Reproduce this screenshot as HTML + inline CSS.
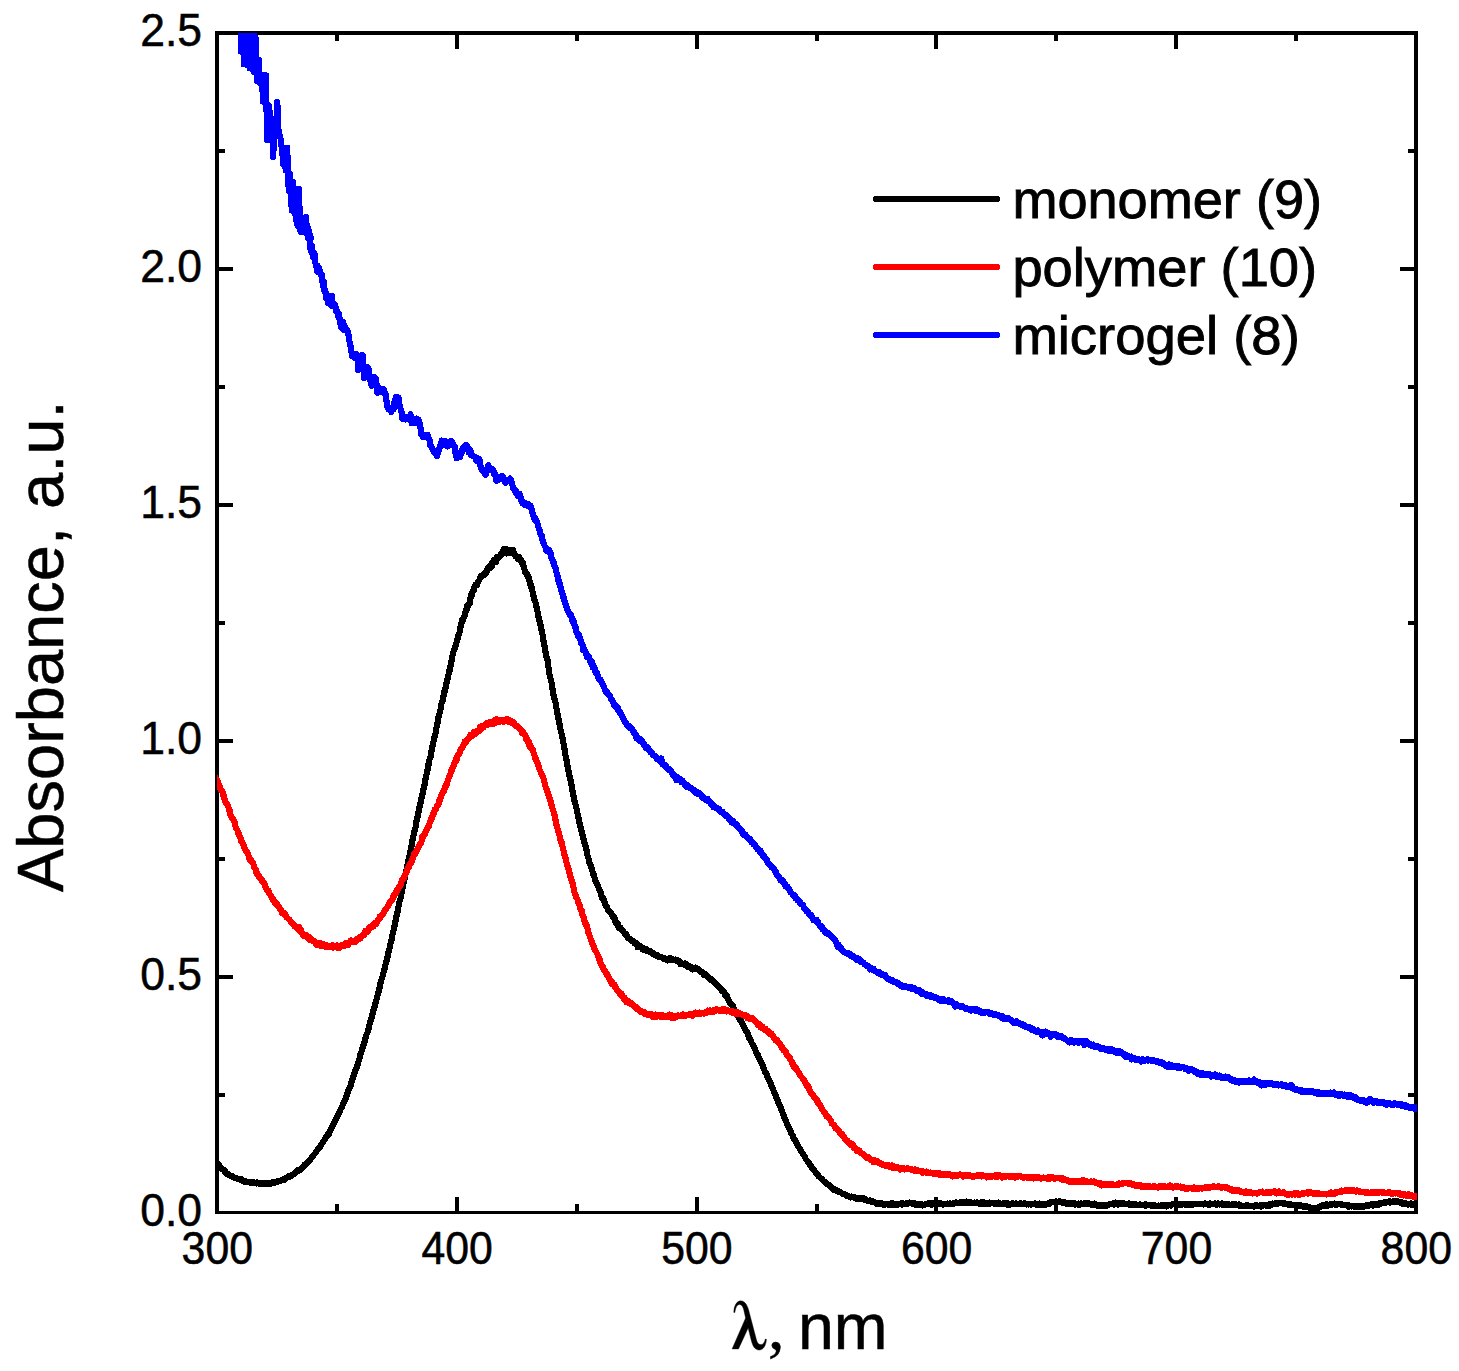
<!DOCTYPE html>
<html><head><meta charset="utf-8"><title>Absorbance spectra</title>
<style>
html,body{margin:0;padding:0;background:#fff;}
body{width:1459px;height:1371px;overflow:hidden;font-family:"Liberation Sans",sans-serif;}
svg{display:block;}
text{font-family:"Liberation Sans",sans-serif;fill:#000;stroke:#000;stroke-width:0.5px;}
.lg text{stroke:#000;stroke-width:0.9px;}
.lg path{fill:none;}
.ser{font-family:"Liberation Serif",serif;}
</style></head><body>
<svg width="1459" height="1371" viewBox="0 0 1459 1371">
<rect width="1459" height="1371" fill="#fff"/>
<defs><clipPath id="cp"><rect x="217" y="33" width="1200" height="1180"/></clipPath></defs>
<path shape-rendering="crispEdges" fill="#000" d="M215,31H1418V35H215ZM215,1211H1418V1214H215ZM215,31H219V1214H215ZM1414,31H1418V1214H1414ZM335,1204H339V1211H335ZM335,35H339V41H335ZM455,1197H459V1211H455ZM455,35H459V49H455ZM575,1204H579V1211H575ZM575,35H579V41H575ZM695,1197H699V1211H695ZM695,35H699V49H695ZM815,1204H819V1211H815ZM815,35H819V41H815ZM934,1197H938V1211H934ZM934,35H938V49H934ZM1054,1204H1058V1211H1054ZM1054,35H1058V41H1054ZM1174,1197H1178V1211H1174ZM1174,35H1178V49H1174ZM1294,1204H1298V1211H1294ZM1294,35H1298V41H1294ZM219,1093H225V1097H219ZM1408,1093H1414V1097H1408ZM219,975H233V979H219ZM1400,975H1414V979H1400ZM219,857H225V861H219ZM1408,857H1414V861H1408ZM219,739H233V743H219ZM1400,739H1414V743H1400ZM219,621H225V625H219ZM1408,621H1414V625H1408ZM219,503H233V507H219ZM1400,503H1414V507H1400ZM219,385H225V389H219ZM1408,385H1414V389H1408ZM219,267H233V271H219ZM1400,267H1414V271H1400ZM219,149H225V153H219ZM1408,149H1414V153H1408Z"/>
<g clip-path="url(#cp)" shape-rendering="crispEdges" fill="none" stroke-width="6.2" stroke-linejoin="round" stroke-linecap="round">
<path stroke="#000" d="M208.0,1152.8 208.6,1153.2 209.2,1153.8 209.8,1154.4 210.4,1155.2 211.0,1156.1 211.6,1156.4 212.2,1156.7 212.8,1157.5 213.4,1158.3 214.0,1158.8 214.6,1159.9 215.2,1160.6 215.8,1161.3 216.4,1162.5 217.0,1162.7 217.6,1163.4 218.2,1164.2 218.8,1165.0 219.4,1166.3 220.0,1166.4 220.6,1167.5 221.2,1168.0 221.8,1168.1 222.4,1169.3 223.0,1169.6 223.6,1169.9 224.2,1170.5 224.8,1172.0 225.4,1171.7 226.0,1172.5 226.6,1173.6 227.2,1173.9 227.8,1173.9 228.4,1174.6 229.0,1174.8 229.6,1175.1 230.2,1175.5 230.8,1175.7 231.4,1176.0 232.0,1176.6 232.6,1176.0 233.2,1176.7 233.8,1177.5 234.4,1177.5 235.0,1177.9 235.6,1177.8 236.2,1178.2 236.8,1178.3 237.4,1179.0 238.0,1179.3 238.6,1179.2 239.2,1179.1 239.8,1179.5 240.4,1179.6 241.0,1179.2 241.6,1180.4 242.2,1180.4 242.8,1180.9 243.4,1180.7 244.0,1181.3 244.6,1181.9 245.2,1181.4 245.8,1181.1 246.4,1181.8 247.0,1181.6 247.6,1182.0 248.2,1182.0 248.8,1182.3 249.4,1182.4 250.0,1182.6 250.6,1182.1 251.2,1182.2 251.8,1182.6 252.4,1182.2 253.0,1182.7 253.6,1182.5 254.2,1182.5 254.8,1182.8 255.4,1183.2 256.0,1182.8 256.6,1183.4 257.2,1182.6 257.8,1183.1 258.4,1183.5 259.0,1183.6 259.6,1183.0 260.2,1183.0 260.8,1183.6 261.4,1183.0 262.0,1183.9 262.6,1183.4 263.2,1183.5 263.8,1184.1 264.4,1183.6 265.0,1183.6 265.6,1183.2 266.2,1183.7 266.8,1183.7 267.4,1183.6 268.0,1183.8 268.6,1183.1 269.2,1183.6 269.8,1183.4 270.4,1182.9 271.0,1183.4 271.6,1182.5 272.2,1182.7 272.8,1183.1 273.4,1182.3 274.0,1182.1 274.6,1182.2 275.2,1182.4 275.8,1182.4 276.4,1182.2 277.0,1182.0 277.6,1181.1 278.2,1181.5 278.8,1181.0 279.4,1181.1 280.0,1181.0 280.6,1181.0 281.2,1180.4 281.8,1180.3 282.4,1179.5 283.0,1179.7 283.6,1179.2 284.2,1179.7 284.8,1178.8 285.4,1178.7 286.0,1178.0 286.6,1177.6 287.2,1177.5 287.8,1176.7 288.4,1177.0 289.0,1176.1 289.6,1176.6 290.2,1175.9 290.8,1175.8 291.4,1176.2 292.0,1174.6 292.6,1174.5 293.2,1174.5 293.8,1174.1 294.4,1173.2 295.0,1173.0 295.6,1172.0 296.2,1172.0 296.8,1171.3 297.4,1171.4 298.0,1170.0 298.6,1170.1 299.2,1170.5 299.8,1169.7 300.4,1169.0 301.0,1169.2 301.6,1168.4 302.2,1167.8 302.8,1166.7 303.4,1166.4 304.0,1166.0 304.6,1164.8 305.2,1164.6 305.8,1163.6 306.4,1163.2 307.0,1162.8 307.6,1161.9 308.2,1161.6 308.8,1161.3 309.4,1160.7 310.0,1159.9 310.6,1159.0 311.2,1158.3 311.8,1157.5 312.4,1156.9 313.0,1155.9 313.6,1155.1 314.2,1154.2 314.8,1153.9 315.4,1153.0 316.0,1152.2 316.6,1151.3 317.2,1150.3 317.8,1149.7 318.4,1148.4 319.0,1148.3 319.6,1147.3 320.2,1147.1 320.8,1145.6 321.4,1144.5 322.0,1143.6 322.6,1143.0 323.2,1141.8 323.8,1140.8 324.4,1139.9 325.0,1139.8 325.6,1138.1 326.2,1136.8 326.8,1136.5 327.4,1136.2 328.0,1134.0 328.6,1134.5 329.2,1132.4 329.8,1131.6 330.4,1130.4 331.0,1129.1 331.6,1128.0 332.2,1126.8 332.8,1125.0 333.4,1124.9 334.0,1123.1 334.6,1122.3 335.2,1121.1 335.8,1119.4 336.4,1118.3 337.0,1117.1 337.6,1116.0 338.2,1115.0 338.8,1113.8 339.4,1111.8 340.0,1110.6 340.6,1109.3 341.2,1108.3 341.8,1107.5 342.4,1105.9 343.0,1104.1 343.6,1103.0 344.2,1101.5 344.8,1100.5 345.4,1099.0 346.0,1097.3 346.6,1095.5 347.2,1093.9 347.8,1093.0 348.4,1090.4 349.0,1089.3 349.6,1087.8 350.2,1086.2 350.8,1085.2 351.4,1082.7 352.0,1079.8 352.6,1079.3 353.2,1077.3 353.8,1074.3 354.4,1073.1 355.0,1071.6 355.6,1069.3 356.2,1068.9 356.8,1067.1 357.4,1065.3 358.0,1063.0 358.6,1061.3 359.2,1059.4 359.8,1057.5 360.4,1054.6 361.0,1053.6 361.6,1051.1 362.2,1048.2 362.8,1047.9 363.4,1045.4 364.0,1043.1 364.6,1041.5 365.2,1038.6 365.8,1037.5 366.4,1034.7 367.0,1033.4 367.6,1032.4 368.2,1030.4 368.8,1027.4 369.4,1024.9 370.0,1023.4 370.6,1020.5 371.2,1018.8 371.8,1016.8 372.4,1014.6 373.0,1013.4 373.6,1009.5 374.2,1009.3 374.8,1005.2 375.4,1003.5 376.0,1001.2 376.6,999.2 377.2,996.9 377.8,994.4 378.4,992.3 379.0,989.9 379.6,987.6 380.2,984.4 380.8,981.9 381.4,979.9 382.0,978.1 382.6,976.0 383.2,973.7 383.8,971.7 384.4,969.7 385.0,966.8 385.6,964.2 386.2,961.5 386.8,960.4 387.4,957.7 388.0,954.0 388.6,951.9 389.2,949.8 389.8,947.7 390.4,943.9 391.0,941.8 391.6,939.9 392.2,935.6 392.8,933.4 393.4,931.1 394.0,927.6 394.6,926.1 395.2,922.5 395.8,919.4 396.4,916.4 397.0,914.8 397.6,911.8 398.2,908.1 398.8,905.4 399.4,902.0 400.0,900.0 400.6,898.0 401.2,894.7 401.8,891.6 402.4,889.1 403.0,885.2 403.6,882.5 404.2,880.9 404.8,878.0 405.4,874.1 406.0,872.3 406.6,869.6 407.2,866.8 407.8,863.8 408.4,860.3 409.0,857.9 409.6,855.8 410.2,852.0 410.8,848.9 411.4,847.1 412.0,842.3 412.6,839.8 413.2,836.7 413.8,834.4 414.4,831.2 415.0,829.6 415.6,827.4 416.2,822.8 416.8,819.7 417.4,817.5 418.0,814.0 418.6,811.3 419.2,808.1 419.8,806.6 420.4,803.9 421.0,799.1 421.6,797.8 422.2,795.3 422.8,792.9 423.4,789.6 424.0,786.5 424.6,784.8 425.2,780.5 425.8,778.1 426.4,775.2 427.0,772.7 427.6,769.2 428.2,764.8 428.8,764.1 429.4,759.9 430.0,757.5 430.6,757.2 431.2,753.4 431.8,749.0 432.4,746.7 433.0,744.0 433.6,741.0 434.2,738.0 434.8,737.0 435.4,734.0 436.0,730.8 436.6,726.8 437.2,724.3 437.8,721.6 438.4,717.6 439.0,715.5 439.6,713.0 440.2,711.3 440.8,708.0 441.4,704.0 442.0,701.5 442.6,701.0 443.2,696.1 443.8,695.1 444.4,691.6 445.0,690.7 445.6,687.6 446.2,684.6 446.8,681.8 447.4,679.6 448.0,677.3 448.6,674.2 449.2,670.1 449.8,670.3 450.4,666.5 451.0,662.8 451.6,660.9 452.2,657.2 452.8,654.1 453.4,651.9 454.0,650.4 454.6,648.9 455.2,646.1 455.8,645.8 456.4,643.0 457.0,641.2 457.6,638.4 458.2,636.6 458.8,633.9 459.4,633.3 460.0,629.6 460.6,626.3 461.2,625.2 461.8,620.2 462.4,620.8 463.0,619.9 463.6,617.8 464.2,617.3 464.8,615.2 465.4,612.7 466.0,609.9 466.6,609.7 467.2,605.8 467.8,605.1 468.4,605.3 469.0,603.6 469.6,603.6 470.2,599.5 470.8,595.6 471.4,596.4 472.0,594.7 472.6,591.6 473.2,591.4 473.8,590.2 474.4,587.0 475.0,585.8 475.6,584.5 476.2,585.7 476.8,585.0 477.4,584.1 478.0,581.9 478.6,581.3 479.2,580.1 479.8,578.8 480.4,577.5 481.0,575.9 481.6,576.0 482.2,576.0 482.8,575.8 483.4,575.1 484.0,573.8 484.6,574.3 485.2,574.5 485.8,572.4 486.4,572.3 487.0,569.5 487.6,568.7 488.2,568.8 488.8,566.8 489.4,568.5 490.0,565.7 490.6,566.6 491.2,563.9 491.8,567.0 492.4,564.6 493.0,562.0 493.6,561.9 494.2,559.7 494.8,560.3 495.4,560.4 496.0,561.9 496.6,557.3 497.2,559.3 497.8,556.8 498.4,557.3 499.0,557.4 499.6,556.6 500.2,556.0 500.8,554.3 501.4,553.9 502.0,553.0 502.6,553.6 503.2,549.9 503.8,550.3 504.4,548.8 505.0,549.1 505.6,549.4 506.2,552.0 506.8,553.3 507.4,552.0 508.0,549.6 508.6,550.5 509.2,549.8 509.8,551.6 510.4,552.7 511.0,552.0 511.6,552.3 512.2,551.4 512.8,549.7 513.4,551.1 514.0,552.9 514.6,554.3 515.2,556.0 515.8,555.1 516.4,556.3 517.0,557.4 517.6,558.8 518.2,557.6 518.8,556.8 519.4,559.0 520.0,559.4 520.6,560.7 521.2,560.4 521.8,563.1 522.4,562.2 523.0,562.9 523.6,566.3 524.2,568.3 524.8,570.4 525.4,572.8 526.0,572.4 526.6,574.6 527.2,573.8 527.8,576.5 528.4,576.3 529.0,579.6 529.6,581.3 530.2,583.0 530.8,586.6 531.4,585.7 532.0,589.6 532.6,592.0 533.2,594.1 533.8,597.5 534.4,599.5 535.0,601.2 535.6,602.6 536.2,606.6 536.8,607.6 537.4,611.0 538.0,613.0 538.6,617.5 539.2,618.5 539.8,623.2 540.4,624.4 541.0,628.1 541.6,630.0 542.2,633.6 542.8,635.7 543.4,640.3 544.0,643.0 544.6,646.5 545.2,651.2 545.8,652.3 546.4,656.7 547.0,658.8 547.6,660.3 548.2,665.6 548.8,669.2 549.4,674.3 550.0,675.6 550.6,679.1 551.2,681.7 551.8,683.2 552.4,688.5 553.0,690.3 553.6,695.6 554.2,698.5 554.8,699.9 555.4,701.7 556.0,705.8 556.6,709.1 557.2,712.9 557.8,715.5 558.4,718.3 559.0,721.8 559.6,724.2 560.2,728.8 560.8,730.0 561.4,732.9 562.0,736.2 562.6,738.3 563.2,741.9 563.8,745.3 564.4,748.2 565.0,751.6 565.6,756.1 566.2,758.9 566.8,761.3 567.4,765.4 568.0,769.3 568.6,771.3 569.2,774.6 569.8,776.8 570.4,779.8 571.0,782.5 571.6,785.3 572.2,788.6 572.8,792.9 573.4,794.6 574.0,799.8 574.6,800.7 575.2,802.8 575.8,806.2 576.4,808.1 577.0,811.3 577.6,813.9 578.2,816.7 578.8,819.3 579.4,822.1 580.0,826.3 580.6,827.2 581.2,829.8 581.8,832.0 582.4,834.7 583.0,838.2 583.6,838.6 584.2,841.6 584.8,843.9 585.4,845.2 586.0,848.7 586.6,850.3 587.2,854.4 587.8,856.9 588.4,857.9 589.0,861.7 589.6,862.8 590.2,864.7 590.8,864.8 591.4,867.4 592.0,869.2 592.6,872.1 593.2,874.6 593.8,874.5 594.4,877.2 595.0,878.7 595.6,881.1 596.2,882.1 596.8,883.1 597.4,885.2 598.0,886.3 598.6,887.6 599.2,889.9 599.8,890.6 600.4,892.2 601.0,893.4 601.6,896.8 602.2,898.0 602.8,898.9 603.4,898.7 604.0,899.9 604.6,902.1 605.2,903.6 605.8,906.1 606.4,906.3 607.0,906.6 607.6,908.8 608.2,910.2 608.8,910.5 609.4,911.6 610.0,912.4 610.6,912.6 611.2,913.3 611.8,915.0 612.4,916.2 613.0,915.7 613.6,916.4 614.2,918.9 614.8,918.3 615.4,922.0 616.0,921.9 616.6,923.3 617.2,924.8 617.8,923.9 618.4,925.2 619.0,927.8 619.6,927.1 620.2,927.5 620.8,928.1 621.4,929.2 622.0,930.1 622.6,930.2 623.2,931.2 623.8,932.2 624.4,932.8 625.0,934.1 625.6,933.6 626.2,935.1 626.8,935.0 627.4,936.4 628.0,938.1 628.6,938.4 629.2,938.5 629.8,938.9 630.4,939.5 631.0,940.6 631.6,941.2 632.2,941.1 632.8,940.7 633.4,941.5 634.0,942.6 634.6,943.3 635.2,942.8 635.8,943.7 636.4,943.3 637.0,944.2 637.6,947.0 638.2,945.6 638.8,946.2 639.4,946.4 640.0,945.9 640.6,946.0 641.2,947.1 641.8,947.4 642.4,949.1 643.0,947.9 643.6,949.4 644.2,950.2 644.8,948.7 645.4,949.9 646.0,948.8 646.6,950.2 647.2,951.3 647.8,950.9 648.4,951.2 649.0,950.8 649.6,951.5 650.2,952.0 650.8,951.5 651.4,952.5 652.0,953.0 652.6,953.8 653.2,953.0 653.8,954.0 654.4,953.9 655.0,955.0 655.6,955.5 656.2,955.4 656.8,956.1 657.4,955.4 658.0,956.3 658.6,956.0 659.2,957.1 659.8,957.1 660.4,957.2 661.0,956.8 661.6,957.3 662.2,957.4 662.8,957.9 663.4,957.7 664.0,958.9 664.6,959.0 665.2,958.4 665.8,959.3 666.4,958.8 667.0,959.9 667.6,960.3 668.2,959.4 668.8,959.7 669.4,958.7 670.0,958.2 670.6,959.3 671.2,959.5 671.8,959.0 672.4,959.4 673.0,959.5 673.6,959.6 674.2,960.3 674.8,960.0 675.4,959.6 676.0,959.9 676.6,960.4 677.2,960.2 677.8,961.7 678.4,961.6 679.0,961.4 679.6,961.3 680.2,964.1 680.8,963.1 681.4,963.5 682.0,964.1 682.6,963.8 683.2,963.8 683.8,964.2 684.4,963.7 685.0,964.7 685.6,963.6 686.2,964.7 686.8,965.3 687.4,965.0 688.0,967.1 688.6,966.0 689.2,967.2 689.8,966.3 690.4,967.0 691.0,966.8 691.6,968.7 692.2,968.4 692.8,969.3 693.4,968.5 694.0,968.7 694.6,968.3 695.2,967.7 695.8,968.6 696.4,968.5 697.0,968.5 697.6,968.7 698.2,969.4 698.8,970.4 699.4,970.5 700.0,971.3 700.6,971.7 701.2,971.5 701.8,971.7 702.4,972.3 703.0,973.1 703.6,973.9 704.2,975.0 704.8,974.4 705.4,974.1 706.0,975.5 706.6,975.2 707.2,975.7 707.8,977.5 708.4,977.6 709.0,978.1 709.6,978.6 710.2,978.8 710.8,979.8 711.4,979.2 712.0,979.6 712.6,980.2 713.2,981.7 713.8,982.4 714.4,982.2 715.0,983.4 715.6,983.4 716.2,984.7 716.8,984.4 717.4,985.9 718.0,985.8 718.6,986.2 719.2,987.4 719.8,988.2 720.4,988.5 721.0,988.9 721.6,990.9 722.2,990.8 722.8,990.8 723.4,991.2 724.0,991.7 724.6,993.1 725.2,995.3 725.8,994.6 726.4,996.0 727.0,996.2 727.6,998.2 728.2,999.2 728.8,1000.4 729.4,1002.2 730.0,1003.5 730.6,1003.7 731.2,1003.9 731.8,1004.1 732.4,1005.0 733.0,1006.0 733.6,1008.4 734.2,1008.9 734.8,1010.1 735.4,1011.5 736.0,1013.5 736.6,1013.5 737.2,1015.6 737.8,1016.1 738.4,1016.9 739.0,1017.3 739.6,1019.4 740.2,1019.7 740.8,1020.9 741.4,1022.0 742.0,1023.2 742.6,1024.6 743.2,1025.1 743.8,1026.8 744.4,1027.9 745.0,1029.2 745.6,1030.4 746.2,1030.7 746.8,1032.4 747.4,1032.7 748.0,1034.1 748.6,1036.1 749.2,1038.1 749.8,1038.8 750.4,1039.9 751.0,1041.3 751.6,1042.7 752.2,1043.7 752.8,1044.7 753.4,1045.0 754.0,1047.3 754.6,1048.5 755.2,1049.3 755.8,1051.6 756.4,1052.7 757.0,1054.1 757.6,1054.3 758.2,1056.8 758.8,1057.5 759.4,1058.2 760.0,1060.4 760.6,1061.4 761.2,1062.5 761.8,1063.8 762.4,1064.7 763.0,1067.0 763.6,1067.9 764.2,1069.5 764.8,1071.4 765.4,1072.2 766.0,1073.3 766.6,1074.5 767.2,1076.4 767.8,1078.1 768.4,1078.6 769.0,1079.6 769.6,1081.4 770.2,1082.3 770.8,1083.9 771.4,1086.1 772.0,1086.6 772.6,1088.6 773.2,1089.4 773.8,1091.2 774.4,1092.7 775.0,1094.3 775.6,1094.8 776.2,1097.1 776.8,1098.6 777.4,1099.7 778.0,1102.2 778.6,1103.0 779.2,1104.0 779.8,1105.9 780.4,1106.5 781.0,1109.0 781.6,1110.5 782.2,1111.5 782.8,1113.5 783.4,1114.8 784.0,1116.9 784.6,1117.8 785.2,1119.1 785.8,1120.5 786.4,1122.4 787.0,1123.4 787.6,1125.2 788.2,1126.7 788.8,1127.6 789.4,1128.8 790.0,1130.5 790.6,1131.4 791.2,1133.0 791.8,1134.4 792.4,1135.1 793.0,1136.3 793.6,1138.3 794.2,1138.8 794.8,1139.6 795.4,1140.8 796.0,1142.0 796.6,1142.9 797.2,1144.2 797.8,1145.5 798.4,1146.6 799.0,1147.6 799.6,1148.3 800.2,1149.3 800.8,1150.8 801.4,1151.3 802.0,1152.6 802.6,1153.3 803.2,1153.9 803.8,1155.4 804.4,1156.0 805.0,1157.5 805.6,1158.8 806.2,1159.9 806.8,1160.2 807.4,1161.2 808.0,1161.6 808.6,1162.8 809.2,1162.7 809.8,1164.2 810.4,1165.5 811.0,1166.4 811.6,1166.9 812.2,1168.1 812.8,1169.0 813.4,1169.5 814.0,1170.3 814.6,1170.9 815.2,1171.9 815.8,1172.8 816.4,1173.4 817.0,1173.9 817.6,1174.3 818.2,1175.2 818.8,1176.5 819.4,1176.9 820.0,1177.5 820.6,1178.0 821.2,1178.6 821.8,1179.1 822.4,1179.6 823.0,1180.4 823.6,1181.2 824.2,1181.7 824.8,1181.9 825.4,1182.5 826.0,1183.5 826.6,1183.6 827.2,1184.4 827.8,1184.6 828.4,1184.9 829.0,1185.0 829.6,1185.9 830.2,1186.4 830.8,1187.3 831.4,1187.4 832.0,1188.0 832.6,1188.8 833.2,1189.0 833.8,1189.6 834.4,1190.1 835.0,1189.4 835.6,1190.2 836.2,1190.0 836.8,1190.9 837.4,1190.8 838.0,1191.2 838.6,1191.8 839.2,1191.5 839.8,1191.9 840.4,1192.2 841.0,1192.5 841.6,1193.2 842.2,1193.5 842.8,1193.9 843.4,1193.9 844.0,1194.1 844.6,1194.3 845.2,1194.7 845.8,1194.7 846.4,1195.6 847.0,1195.9 847.6,1196.0 848.2,1195.9 848.8,1196.5 849.4,1196.9 850.0,1196.9 850.6,1197.4 851.2,1196.6 851.8,1196.9 852.4,1197.2 853.0,1197.1 853.6,1197.2 854.2,1197.2 854.8,1197.5 855.4,1198.3 856.0,1198.5 856.6,1198.0 857.2,1198.5 857.8,1198.5 858.4,1198.4 859.0,1198.4 859.6,1198.5 860.2,1198.8 860.8,1198.7 861.4,1199.0 862.0,1198.1 862.6,1198.3 863.2,1198.7 863.8,1198.5 864.4,1199.6 865.0,1199.8 865.6,1199.3 866.2,1199.8 866.8,1200.2 867.4,1200.4 868.0,1200.9 868.6,1201.1 869.2,1200.6 869.8,1200.5 870.4,1200.7 871.0,1201.1 871.6,1200.8 872.2,1201.9 872.8,1201.5 873.4,1202.2 874.0,1201.7 874.6,1202.0 875.2,1202.7 875.8,1203.0 876.4,1203.0 877.0,1203.8 877.6,1203.1 878.2,1203.2 878.8,1203.0 879.4,1203.7 880.0,1203.5 880.6,1203.5 881.2,1203.0 881.8,1203.9 882.4,1203.9 883.0,1204.4 883.6,1204.9 884.2,1204.2 884.8,1204.5 885.4,1204.6 886.0,1204.3 886.6,1204.2 887.2,1203.8 887.8,1204.0 888.4,1204.0 889.0,1204.9 889.6,1204.8 890.2,1204.6 890.8,1204.6 891.4,1204.0 892.0,1203.1 892.6,1204.4 893.2,1204.5 893.8,1203.8 894.4,1204.3 895.0,1204.9 895.6,1205.0 896.2,1204.7 896.8,1204.7 897.4,1204.7 898.0,1204.1 898.6,1204.3 899.2,1204.2 899.8,1203.8 900.4,1204.1 901.0,1203.7 901.6,1204.5 902.2,1203.2 902.8,1203.6 903.4,1203.5 904.0,1203.6 904.6,1203.7 905.2,1204.1 905.8,1203.5 906.4,1203.9 907.0,1204.0 907.6,1203.5 908.2,1203.0 908.8,1203.3 909.4,1202.6 910.0,1202.9 910.6,1203.2 911.2,1203.4 911.8,1203.5 912.4,1203.2 913.0,1203.3 913.6,1203.5 914.2,1203.6 914.8,1204.3 915.4,1203.7 916.0,1204.6 916.6,1204.3 917.2,1204.7 917.8,1204.9 918.4,1204.6 919.0,1203.9 919.6,1205.0 920.2,1204.0 920.8,1204.2 921.4,1204.9 922.0,1204.6 922.6,1205.4 923.2,1205.2 923.8,1204.9 924.4,1204.5 925.0,1204.6 925.6,1204.0 926.2,1204.2 926.8,1204.2 927.4,1204.0 928.0,1204.1 928.6,1203.3 929.2,1203.9 929.8,1204.0 930.4,1203.0 931.0,1203.8 931.6,1204.6 932.2,1204.0 932.8,1203.7 933.4,1203.4 934.0,1203.7 934.6,1204.0 935.2,1203.0 935.8,1203.3 936.4,1203.1 937.0,1203.4 937.6,1203.6 938.2,1203.4 938.8,1203.0 939.4,1203.8 940.0,1203.0 940.6,1203.3 941.2,1204.0 941.8,1204.0 942.4,1204.1 943.0,1204.5 943.6,1203.8 944.2,1204.3 944.8,1204.4 945.4,1204.3 946.0,1204.0 946.6,1204.1 947.2,1203.6 947.8,1203.9 948.4,1203.8 949.0,1204.0 949.6,1203.6 950.2,1203.5 950.8,1203.5 951.4,1204.0 952.0,1203.9 952.6,1204.1 953.2,1203.6 953.8,1203.1 954.4,1203.2 955.0,1203.1 955.6,1203.2 956.2,1202.4 956.8,1202.6 957.4,1202.8 958.0,1203.1 958.6,1202.9 959.2,1202.8 959.8,1203.2 960.4,1202.4 961.0,1203.1 961.6,1202.7 962.2,1202.1 962.8,1202.8 963.4,1202.0 964.0,1202.3 964.6,1202.7 965.2,1202.8 965.8,1202.2 966.4,1201.6 967.0,1201.9 967.6,1202.4 968.2,1203.3 968.8,1203.0 969.4,1202.8 970.0,1202.2 970.6,1202.9 971.2,1202.3 971.8,1202.7 972.4,1203.0 973.0,1202.7 973.6,1203.0 974.2,1202.8 974.8,1202.6 975.4,1203.3 976.0,1203.0 976.6,1202.6 977.2,1202.5 977.8,1202.7 978.4,1202.9 979.0,1203.3 979.6,1203.7 980.2,1203.2 980.8,1202.6 981.4,1203.7 982.0,1203.1 982.6,1203.2 983.2,1203.5 983.8,1202.3 984.4,1202.9 985.0,1203.0 985.6,1203.6 986.2,1202.9 986.8,1203.3 987.4,1203.6 988.0,1203.3 988.6,1203.2 989.2,1203.8 989.8,1202.6 990.4,1203.2 991.0,1203.0 991.6,1203.2 992.2,1203.1 992.8,1203.0 993.4,1203.4 994.0,1203.0 994.6,1203.6 995.2,1203.3 995.8,1203.7 996.4,1203.3 997.0,1203.2 997.6,1203.5 998.2,1203.7 998.8,1202.6 999.4,1203.7 1000.0,1204.0 1000.6,1203.5 1001.2,1203.7 1001.8,1204.0 1002.4,1203.5 1003.0,1203.4 1003.6,1204.2 1004.2,1203.2 1004.8,1203.2 1005.4,1202.8 1006.0,1203.5 1006.6,1203.6 1007.2,1204.6 1007.8,1204.5 1008.4,1203.4 1009.0,1204.6 1009.6,1204.3 1010.2,1204.3 1010.8,1204.5 1011.4,1204.3 1012.0,1203.8 1012.6,1203.2 1013.2,1203.7 1013.8,1203.9 1014.4,1203.7 1015.0,1203.6 1015.6,1204.2 1016.2,1203.5 1016.8,1204.1 1017.4,1203.7 1018.0,1203.9 1018.6,1203.8 1019.2,1204.2 1019.8,1203.8 1020.4,1203.4 1021.0,1203.9 1021.6,1204.0 1022.2,1204.4 1022.8,1204.3 1023.4,1203.8 1024.0,1203.8 1024.6,1203.2 1025.2,1203.5 1025.8,1204.3 1026.4,1204.5 1027.0,1204.2 1027.6,1204.3 1028.2,1204.4 1028.8,1204.4 1029.4,1203.9 1030.0,1203.9 1030.6,1204.6 1031.2,1204.6 1031.8,1204.1 1032.4,1203.9 1033.0,1203.9 1033.6,1203.7 1034.2,1203.6 1034.8,1203.4 1035.4,1204.1 1036.0,1204.1 1036.6,1204.5 1037.2,1205.2 1037.8,1204.8 1038.4,1204.3 1039.0,1204.5 1039.6,1203.7 1040.2,1204.6 1040.8,1204.5 1041.4,1204.2 1042.0,1204.5 1042.6,1204.8 1043.2,1203.8 1043.8,1203.8 1044.4,1204.8 1045.0,1203.9 1045.6,1204.8 1046.2,1204.0 1046.8,1204.1 1047.4,1203.7 1048.0,1203.7 1048.6,1203.2 1049.2,1203.0 1049.8,1203.5 1050.4,1202.9 1051.0,1201.9 1051.6,1202.3 1052.2,1202.1 1052.8,1201.9 1053.4,1202.2 1054.0,1202.3 1054.6,1202.4 1055.2,1201.9 1055.8,1201.4 1056.4,1201.7 1057.0,1202.1 1057.6,1201.7 1058.2,1202.4 1058.8,1202.1 1059.4,1201.5 1060.0,1201.9 1060.6,1201.5 1061.2,1201.9 1061.8,1202.1 1062.4,1202.6 1063.0,1203.2 1063.6,1202.4 1064.2,1203.2 1064.8,1202.1 1065.4,1202.5 1066.0,1202.7 1066.6,1203.8 1067.2,1203.3 1067.8,1203.7 1068.4,1202.8 1069.0,1203.6 1069.6,1203.9 1070.2,1204.2 1070.8,1203.4 1071.4,1204.2 1072.0,1204.3 1072.6,1204.2 1073.2,1204.0 1073.8,1203.3 1074.4,1204.0 1075.0,1204.4 1075.6,1203.6 1076.2,1204.3 1076.8,1203.8 1077.4,1203.9 1078.0,1204.2 1078.6,1203.6 1079.2,1204.8 1079.8,1203.9 1080.4,1203.8 1081.0,1203.3 1081.6,1203.7 1082.2,1203.7 1082.8,1203.6 1083.4,1203.6 1084.0,1204.2 1084.6,1203.9 1085.2,1202.9 1085.8,1203.4 1086.4,1203.8 1087.0,1203.9 1087.6,1203.9 1088.2,1203.2 1088.8,1204.1 1089.4,1204.0 1090.0,1204.2 1090.6,1204.3 1091.2,1204.9 1091.8,1204.8 1092.4,1205.0 1093.0,1204.1 1093.6,1204.2 1094.2,1203.6 1094.8,1204.0 1095.4,1204.6 1096.0,1204.7 1096.6,1205.5 1097.2,1205.4 1097.8,1205.4 1098.4,1205.5 1099.0,1205.9 1099.6,1205.6 1100.2,1205.8 1100.8,1205.4 1101.4,1205.5 1102.0,1205.2 1102.6,1204.9 1103.2,1204.9 1103.8,1205.9 1104.4,1205.4 1105.0,1205.2 1105.6,1204.9 1106.2,1204.7 1106.8,1205.9 1107.4,1204.7 1108.0,1205.1 1108.6,1204.9 1109.2,1204.3 1109.8,1204.2 1110.4,1204.4 1111.0,1204.3 1111.6,1204.2 1112.2,1204.4 1112.8,1203.6 1113.4,1204.2 1114.0,1204.6 1114.6,1204.1 1115.2,1203.5 1115.8,1202.7 1116.4,1203.9 1117.0,1204.0 1117.6,1203.5 1118.2,1204.4 1118.8,1203.9 1119.4,1204.2 1120.0,1203.6 1120.6,1204.1 1121.2,1203.9 1121.8,1203.6 1122.4,1204.0 1123.0,1203.5 1123.6,1203.0 1124.2,1204.0 1124.8,1204.1 1125.4,1203.8 1126.0,1203.8 1126.6,1204.0 1127.2,1203.7 1127.8,1203.8 1128.4,1203.9 1129.0,1203.4 1129.6,1204.6 1130.2,1203.7 1130.8,1203.8 1131.4,1204.4 1132.0,1204.9 1132.6,1204.3 1133.2,1204.3 1133.8,1204.3 1134.4,1204.7 1135.0,1204.6 1135.6,1204.4 1136.2,1205.0 1136.8,1205.1 1137.4,1204.7 1138.0,1205.0 1138.6,1204.8 1139.2,1204.6 1139.8,1204.4 1140.4,1204.7 1141.0,1204.8 1141.6,1205.0 1142.2,1205.0 1142.8,1204.6 1143.4,1204.8 1144.0,1205.0 1144.6,1204.7 1145.2,1204.4 1145.8,1205.7 1146.4,1205.2 1147.0,1204.9 1147.6,1205.3 1148.2,1205.1 1148.8,1204.7 1149.4,1205.3 1150.0,1204.8 1150.6,1205.4 1151.2,1205.2 1151.8,1205.7 1152.4,1205.5 1153.0,1205.7 1153.6,1205.5 1154.2,1205.5 1154.8,1205.3 1155.4,1206.3 1156.0,1206.3 1156.6,1206.0 1157.2,1206.2 1157.8,1206.0 1158.4,1205.5 1159.0,1205.8 1159.6,1206.1 1160.2,1205.7 1160.8,1205.4 1161.4,1205.6 1162.0,1206.3 1162.6,1205.3 1163.2,1205.9 1163.8,1205.6 1164.4,1205.5 1165.0,1205.3 1165.6,1204.8 1166.2,1205.2 1166.8,1206.4 1167.4,1205.6 1168.0,1205.6 1168.6,1205.0 1169.2,1205.0 1169.8,1204.9 1170.4,1204.8 1171.0,1205.4 1171.6,1204.4 1172.2,1204.4 1172.8,1204.1 1173.4,1203.8 1174.0,1203.8 1174.6,1204.5 1175.2,1203.6 1175.8,1204.6 1176.4,1204.1 1177.0,1203.7 1177.6,1203.5 1178.2,1204.1 1178.8,1204.3 1179.4,1204.7 1180.0,1204.2 1180.6,1204.4 1181.2,1204.5 1181.8,1204.6 1182.4,1204.4 1183.0,1203.9 1183.6,1203.9 1184.2,1203.9 1184.8,1204.0 1185.4,1204.7 1186.0,1205.2 1186.6,1205.3 1187.2,1205.0 1187.8,1205.1 1188.4,1204.3 1189.0,1204.2 1189.6,1205.1 1190.2,1204.1 1190.8,1204.4 1191.4,1204.4 1192.0,1204.8 1192.6,1204.3 1193.2,1204.6 1193.8,1203.9 1194.4,1203.7 1195.0,1204.1 1195.6,1204.2 1196.2,1203.9 1196.8,1203.9 1197.4,1203.7 1198.0,1204.3 1198.6,1204.0 1199.2,1203.8 1199.8,1203.9 1200.4,1203.9 1201.0,1204.3 1201.6,1204.2 1202.2,1204.3 1202.8,1204.2 1203.4,1204.4 1204.0,1204.4 1204.6,1204.3 1205.2,1203.5 1205.8,1204.2 1206.4,1204.2 1207.0,1203.9 1207.6,1204.5 1208.2,1204.0 1208.8,1203.8 1209.4,1204.6 1210.0,1203.5 1210.6,1204.4 1211.2,1204.2 1211.8,1203.9 1212.4,1204.0 1213.0,1204.1 1213.6,1203.9 1214.2,1204.2 1214.8,1203.5 1215.4,1204.6 1216.0,1204.6 1216.6,1204.8 1217.2,1203.9 1217.8,1203.5 1218.4,1204.0 1219.0,1204.2 1219.6,1204.4 1220.2,1203.9 1220.8,1204.1 1221.4,1203.9 1222.0,1203.4 1222.6,1204.9 1223.2,1204.0 1223.8,1204.9 1224.4,1205.1 1225.0,1204.4 1225.6,1204.5 1226.2,1204.9 1226.8,1204.3 1227.4,1204.3 1228.0,1204.3 1228.6,1204.3 1229.2,1204.6 1229.8,1204.6 1230.4,1204.6 1231.0,1205.1 1231.6,1204.5 1232.2,1204.5 1232.8,1203.9 1233.4,1204.2 1234.0,1204.9 1234.6,1205.0 1235.2,1205.0 1235.8,1204.6 1236.4,1204.5 1237.0,1204.8 1237.6,1204.9 1238.2,1204.6 1238.8,1205.3 1239.4,1204.7 1240.0,1205.5 1240.6,1205.0 1241.2,1205.6 1241.8,1205.7 1242.4,1206.4 1243.0,1206.3 1243.6,1205.9 1244.2,1205.8 1244.8,1206.1 1245.4,1205.7 1246.0,1205.5 1246.6,1205.3 1247.2,1205.7 1247.8,1206.0 1248.4,1205.6 1249.0,1206.0 1249.6,1206.0 1250.2,1205.6 1250.8,1205.8 1251.4,1206.1 1252.0,1206.0 1252.6,1206.2 1253.2,1206.0 1253.8,1206.6 1254.4,1205.9 1255.0,1205.8 1255.6,1205.2 1256.2,1205.5 1256.8,1205.5 1257.4,1205.7 1258.0,1206.2 1258.6,1206.1 1259.2,1205.9 1259.8,1205.5 1260.4,1206.3 1261.0,1205.8 1261.6,1206.4 1262.2,1205.5 1262.8,1205.1 1263.4,1205.3 1264.0,1205.1 1264.6,1205.3 1265.2,1205.2 1265.8,1205.7 1266.4,1205.5 1267.0,1205.2 1267.6,1206.1 1268.2,1205.3 1268.8,1205.7 1269.4,1204.8 1270.0,1204.2 1270.6,1205.4 1271.2,1204.9 1271.8,1204.6 1272.4,1203.7 1273.0,1204.3 1273.6,1204.3 1274.2,1203.8 1274.8,1203.7 1275.4,1203.3 1276.0,1203.5 1276.6,1203.4 1277.2,1203.6 1277.8,1203.6 1278.4,1203.1 1279.0,1203.0 1279.6,1203.1 1280.2,1203.0 1280.8,1203.4 1281.4,1203.3 1282.0,1203.3 1282.6,1202.9 1283.2,1203.2 1283.8,1203.7 1284.4,1203.2 1285.0,1203.4 1285.6,1203.4 1286.2,1204.3 1286.8,1203.9 1287.4,1204.0 1288.0,1204.6 1288.6,1204.7 1289.2,1204.6 1289.8,1204.6 1290.4,1204.4 1291.0,1204.6 1291.6,1204.6 1292.2,1204.8 1292.8,1204.9 1293.4,1205.2 1294.0,1205.2 1294.6,1205.4 1295.2,1205.6 1295.8,1205.4 1296.4,1204.8 1297.0,1205.2 1297.6,1205.0 1298.2,1204.7 1298.8,1205.5 1299.4,1205.0 1300.0,1204.8 1300.6,1205.2 1301.2,1205.9 1301.8,1205.6 1302.4,1206.4 1303.0,1206.0 1303.6,1206.2 1304.2,1206.6 1304.8,1206.6 1305.4,1206.6 1306.0,1206.2 1306.6,1206.6 1307.2,1206.4 1307.8,1206.9 1308.4,1207.0 1309.0,1207.6 1309.6,1207.7 1310.2,1207.5 1310.8,1208.0 1311.4,1207.8 1312.0,1209.0 1312.6,1208.6 1313.2,1209.0 1313.8,1208.0 1314.4,1208.1 1315.0,1208.5 1315.6,1208.2 1316.2,1208.4 1316.8,1207.9 1317.4,1208.4 1318.0,1207.9 1318.6,1208.0 1319.2,1207.3 1319.8,1206.4 1320.4,1206.6 1321.0,1206.6 1321.6,1205.6 1322.2,1205.8 1322.8,1205.9 1323.4,1205.8 1324.0,1205.1 1324.6,1205.8 1325.2,1205.6 1325.8,1204.8 1326.4,1204.4 1327.0,1205.2 1327.6,1205.8 1328.2,1205.3 1328.8,1205.5 1329.4,1204.6 1330.0,1204.9 1330.6,1204.4 1331.2,1205.3 1331.8,1204.8 1332.4,1203.8 1333.0,1203.6 1333.6,1204.0 1334.2,1203.9 1334.8,1203.6 1335.4,1204.1 1336.0,1205.1 1336.6,1204.3 1337.2,1203.8 1337.8,1204.3 1338.4,1203.7 1339.0,1204.0 1339.6,1204.3 1340.2,1204.2 1340.8,1204.0 1341.4,1204.8 1342.0,1204.6 1342.6,1205.1 1343.2,1205.0 1343.8,1205.1 1344.4,1204.9 1345.0,1205.4 1345.6,1205.0 1346.2,1205.2 1346.8,1205.1 1347.4,1205.4 1348.0,1205.1 1348.6,1206.8 1349.2,1205.9 1349.8,1206.4 1350.4,1206.0 1351.0,1206.1 1351.6,1206.4 1352.2,1206.1 1352.8,1206.2 1353.4,1205.8 1354.0,1206.1 1354.6,1206.0 1355.2,1207.1 1355.8,1206.1 1356.4,1206.2 1357.0,1206.6 1357.6,1207.1 1358.2,1206.0 1358.8,1206.1 1359.4,1206.8 1360.0,1207.0 1360.6,1206.3 1361.2,1206.1 1361.8,1206.4 1362.4,1207.0 1363.0,1206.6 1363.6,1206.8 1364.2,1206.1 1364.8,1205.9 1365.4,1206.0 1366.0,1205.6 1366.6,1205.6 1367.2,1205.0 1367.8,1205.5 1368.4,1205.8 1369.0,1205.6 1369.6,1205.2 1370.2,1205.3 1370.8,1204.8 1371.4,1204.5 1372.0,1204.2 1372.6,1204.7 1373.2,1205.5 1373.8,1204.3 1374.4,1203.9 1375.0,1204.4 1375.6,1204.3 1376.2,1204.1 1376.8,1204.3 1377.4,1204.8 1378.0,1204.5 1378.6,1204.6 1379.2,1204.0 1379.8,1203.1 1380.4,1203.8 1381.0,1203.3 1381.6,1203.1 1382.2,1203.0 1382.8,1203.2 1383.4,1203.0 1384.0,1202.5 1384.6,1202.3 1385.2,1202.7 1385.8,1202.5 1386.4,1202.6 1387.0,1202.4 1387.6,1202.2 1388.2,1201.6 1388.8,1201.9 1389.4,1201.3 1390.0,1202.5 1390.6,1202.3 1391.2,1202.0 1391.8,1202.2 1392.4,1202.4 1393.0,1202.1 1393.6,1201.3 1394.2,1201.6 1394.8,1200.9 1395.4,1201.4 1396.0,1201.4 1396.6,1202.0 1397.2,1202.1 1397.8,1201.5 1398.4,1202.0 1399.0,1202.3 1399.6,1202.3 1400.2,1202.5 1400.8,1201.8 1401.4,1202.9 1402.0,1203.7 1402.6,1203.8 1403.2,1203.6 1403.8,1204.0 1404.4,1204.2 1405.0,1203.6 1405.6,1204.2 1406.2,1203.5 1406.8,1203.9 1407.4,1203.9 1408.0,1204.6 1408.6,1203.7 1409.2,1203.6 1409.8,1204.2 1410.4,1203.9 1411.0,1204.5 1411.6,1203.5 1412.2,1204.3 1412.8,1204.3 1413.4,1203.8 1414.0,1204.7 1414.6,1204.3 1415.2,1204.1 1415.8,1203.8 1416.4,1203.6 1417.0,1203.8 1417.6,1203.8 1418.2,1204.4 1418.8,1204.7 1419.4,1204.4 1420.0,1203.5 1420.6,1204.0 1421.2,1203.7 1421.8,1204.1 1422.4,1204.2 1423.0,1204.0 1423.6,1203.9 1424.2,1204.0 1424.8,1204.3"/>
<path stroke="#ff0000" d="M208.0,761.9 208.6,761.7 209.2,763.3 209.8,764.6 210.4,766.7 211.0,766.6 211.6,768.5 212.2,770.8 212.8,772.2 213.4,773.3 214.0,775.0 214.6,775.8 215.2,777.1 215.8,778.4 216.4,778.9 217.0,779.6 217.6,780.9 218.2,784.4 218.8,784.1 219.4,785.5 220.0,787.6 220.6,788.9 221.2,790.6 221.8,791.0 222.4,791.4 223.0,794.7 223.6,794.9 224.2,797.8 224.8,799.6 225.4,801.7 226.0,803.5 226.6,803.6 227.2,804.0 227.8,805.1 228.4,807.2 229.0,809.9 229.6,810.1 230.2,813.9 230.8,815.4 231.4,817.4 232.0,817.9 232.6,818.9 233.2,819.4 233.8,820.9 234.4,821.5 235.0,824.7 235.6,826.9 236.2,827.9 236.8,829.4 237.4,829.9 238.0,833.7 238.6,832.8 239.2,835.9 239.8,837.3 240.4,837.7 241.0,840.8 241.6,841.1 242.2,841.9 242.8,843.9 243.4,845.2 244.0,846.2 244.6,848.4 245.2,848.8 245.8,850.8 246.4,851.4 247.0,852.1 247.6,853.3 248.2,854.5 248.8,856.4 249.4,859.2 250.0,858.7 250.6,860.9 251.2,860.2 251.8,861.8 252.4,862.9 253.0,863.1 253.6,864.8 254.2,867.0 254.8,868.3 255.4,869.3 256.0,870.3 256.6,873.6 257.2,873.4 257.8,874.1 258.4,876.4 259.0,876.8 259.6,876.7 260.2,878.4 260.8,878.8 261.4,880.2 262.0,881.0 262.6,880.8 263.2,882.9 263.8,883.2 264.4,883.7 265.0,885.1 265.6,887.4 266.2,887.8 266.8,889.0 267.4,890.4 268.0,891.0 268.6,890.7 269.2,893.1 269.8,894.2 270.4,895.3 271.0,896.5 271.6,896.7 272.2,897.9 272.8,899.5 273.4,899.2 274.0,900.9 274.6,902.3 275.2,902.5 275.8,903.6 276.4,904.5 277.0,903.6 277.6,905.4 278.2,905.9 278.8,906.5 279.4,907.6 280.0,909.5 280.6,910.1 281.2,910.0 281.8,911.8 282.4,913.5 283.0,913.0 283.6,913.2 284.2,913.6 284.8,913.2 285.4,914.6 286.0,916.5 286.6,917.6 287.2,917.8 287.8,918.3 288.4,919.0 289.0,919.5 289.6,919.6 290.2,921.0 290.8,921.5 291.4,922.5 292.0,922.4 292.6,923.0 293.2,924.1 293.8,924.2 294.4,926.4 295.0,926.5 295.6,926.7 296.2,927.5 296.8,928.4 297.4,928.0 298.0,928.6 298.6,927.6 299.2,927.1 299.8,928.2 300.4,931.7 301.0,929.9 301.6,932.4 302.2,933.9 302.8,933.4 303.4,935.1 304.0,935.8 304.6,934.7 305.2,935.4 305.8,935.1 306.4,935.3 307.0,937.2 307.6,937.5 308.2,937.2 308.8,937.1 309.4,939.8 310.0,938.0 310.6,938.4 311.2,938.8 311.8,939.5 312.4,940.4 313.0,941.2 313.6,940.9 314.2,941.0 314.8,941.5 315.4,942.9 316.0,944.3 316.6,944.0 317.2,944.9 317.8,943.8 318.4,943.1 319.0,942.8 319.6,944.0 320.2,943.2 320.8,944.7 321.4,946.3 322.0,945.5 322.6,945.9 323.2,944.8 323.8,944.3 324.4,945.1 325.0,945.6 325.6,947.0 326.2,947.0 326.8,945.3 327.4,945.7 328.0,946.5 328.6,946.7 329.2,946.1 329.8,946.7 330.4,946.7 331.0,946.6 331.6,945.5 332.2,946.3 332.8,945.5 333.4,947.6 334.0,946.1 334.6,947.1 335.2,946.4 335.8,946.2 336.4,946.3 337.0,945.6 337.6,947.6 338.2,946.7 338.8,946.7 339.4,947.8 340.0,946.3 340.6,946.2 341.2,945.4 341.8,945.6 342.4,945.9 343.0,945.6 343.6,945.4 344.2,945.9 344.8,945.6 345.4,943.2 346.0,943.9 346.6,943.4 347.2,943.9 347.8,942.8 348.4,944.7 349.0,943.0 349.6,942.1 350.2,941.7 350.8,940.5 351.4,941.4 352.0,940.7 352.6,941.2 353.2,941.6 353.8,941.6 354.4,941.4 355.0,940.6 355.6,941.8 356.2,940.3 356.8,939.2 357.4,939.7 358.0,939.0 358.6,938.7 359.2,938.1 359.8,937.4 360.4,938.5 361.0,937.4 361.6,936.3 362.2,935.7 362.8,935.0 363.4,935.5 364.0,934.3 364.6,934.4 365.2,930.9 365.8,932.4 366.4,932.4 367.0,932.3 367.6,930.8 368.2,929.0 368.8,930.0 369.4,928.1 370.0,927.0 370.6,927.0 371.2,927.5 371.8,927.3 372.4,926.3 373.0,924.4 373.6,926.3 374.2,923.6 374.8,923.8 375.4,922.7 376.0,923.9 376.6,922.0 377.2,921.5 377.8,920.2 378.4,919.4 379.0,919.4 379.6,916.9 380.2,917.7 380.8,916.9 381.4,915.3 382.0,914.5 382.6,914.2 383.2,914.1 383.8,912.4 384.4,911.6 385.0,910.4 385.6,909.0 386.2,908.8 386.8,907.9 387.4,906.7 388.0,905.7 388.6,904.7 389.2,904.1 389.8,902.5 390.4,901.9 391.0,901.3 391.6,899.9 392.2,899.8 392.8,897.1 393.4,897.9 394.0,894.8 394.6,895.1 395.2,893.4 395.8,893.1 396.4,891.6 397.0,889.9 397.6,890.2 398.2,888.5 398.8,887.6 399.4,886.2 400.0,885.9 400.6,884.5 401.2,882.7 401.8,880.1 402.4,879.7 403.0,879.1 403.6,878.9 404.2,877.1 404.8,875.5 405.4,874.6 406.0,872.6 406.6,871.6 407.2,870.3 407.8,867.7 408.4,868.2 409.0,866.1 409.6,865.0 410.2,863.7 410.8,863.4 411.4,863.0 412.0,859.9 412.6,858.3 413.2,857.9 413.8,855.4 414.4,853.4 415.0,854.0 415.6,852.5 416.2,851.6 416.8,850.2 417.4,848.9 418.0,848.0 418.6,846.0 419.2,845.4 419.8,844.9 420.4,843.5 421.0,843.3 421.6,841.0 422.2,836.8 422.8,837.5 423.4,836.1 424.0,835.6 424.6,833.3 425.2,833.7 425.8,831.5 426.4,830.0 427.0,829.2 427.6,827.8 428.2,826.5 428.8,826.2 429.4,824.1 430.0,822.1 430.6,820.8 431.2,819.1 431.8,817.1 432.4,817.2 433.0,813.8 433.6,814.2 434.2,812.1 434.8,809.5 435.4,809.7 436.0,809.5 436.6,807.3 437.2,805.3 437.8,804.7 438.4,804.8 439.0,800.8 439.6,801.3 440.2,799.1 440.8,797.5 441.4,795.4 442.0,793.6 442.6,793.1 443.2,792.0 443.8,789.7 444.4,790.3 445.0,786.9 445.6,786.9 446.2,784.7 446.8,784.2 447.4,781.8 448.0,780.4 448.6,778.3 449.2,777.0 449.8,774.9 450.4,774.2 451.0,770.7 451.6,770.8 452.2,768.6 452.8,767.6 453.4,766.0 454.0,765.5 454.6,762.7 455.2,761.9 455.8,761.3 456.4,758.0 457.0,758.9 457.6,755.7 458.2,755.3 458.8,754.1 459.4,753.1 460.0,751.4 460.6,750.0 461.2,748.8 461.8,748.8 462.4,747.7 463.0,746.5 463.6,745.0 464.2,743.3 464.8,741.5 465.4,742.6 466.0,741.7 466.6,740.0 467.2,739.9 467.8,739.5 468.4,738.1 469.0,738.3 469.6,736.9 470.2,735.1 470.8,735.7 471.4,735.2 472.0,736.0 472.6,733.9 473.2,733.3 473.8,732.4 474.4,733.1 475.0,732.8 475.6,733.5 476.2,732.7 476.8,731.1 477.4,731.0 478.0,730.3 478.6,730.3 479.2,731.2 479.8,727.0 480.4,728.8 481.0,728.6 481.6,728.7 482.2,726.1 482.8,727.3 483.4,727.4 484.0,725.9 484.6,725.0 485.2,725.1 485.8,724.0 486.4,725.0 487.0,723.1 487.6,725.1 488.2,723.7 488.8,722.9 489.4,722.7 490.0,722.0 490.6,722.9 491.2,723.5 491.8,722.3 492.4,723.4 493.0,721.7 493.6,722.4 494.2,723.7 494.8,719.9 495.4,721.9 496.0,722.1 496.6,719.1 497.2,719.4 497.8,719.4 498.4,721.5 499.0,720.3 499.6,720.6 500.2,721.7 500.8,720.7 501.4,721.1 502.0,720.3 502.6,720.8 503.2,720.1 503.8,721.9 504.4,720.5 505.0,720.5 505.6,721.1 506.2,720.7 506.8,718.9 507.4,720.8 508.0,719.6 508.6,720.6 509.2,721.9 509.8,720.5 510.4,720.8 511.0,720.7 511.6,722.6 512.2,721.4 512.8,722.1 513.4,722.1 514.0,723.3 514.6,724.6 515.2,724.7 515.8,726.1 516.4,725.6 517.0,726.6 517.6,727.1 518.2,726.9 518.8,728.0 519.4,728.8 520.0,729.2 520.6,729.5 521.2,729.6 521.8,731.6 522.4,733.5 523.0,732.0 523.6,733.8 524.2,734.7 524.8,735.0 525.4,735.4 526.0,739.1 526.6,739.9 527.2,739.4 527.8,741.5 528.4,742.7 529.0,742.0 529.6,746.6 530.2,745.3 530.8,747.3 531.4,747.3 532.0,749.2 532.6,749.1 533.2,751.0 533.8,754.1 534.4,755.3 535.0,756.4 535.6,759.6 536.2,759.3 536.8,762.1 537.4,762.7 538.0,764.9 538.6,766.2 539.2,768.5 539.8,770.2 540.4,771.3 541.0,772.9 541.6,774.8 542.2,776.0 542.8,776.0 543.4,778.3 544.0,780.6 544.6,782.9 545.2,785.5 545.8,787.4 546.4,788.3 547.0,790.9 547.6,792.3 548.2,792.9 548.8,797.2 549.4,797.8 550.0,799.8 550.6,801.5 551.2,804.7 551.8,805.5 552.4,808.3 553.0,809.8 553.6,811.6 554.2,813.1 554.8,817.3 555.4,819.4 556.0,822.0 556.6,825.6 557.2,827.2 557.8,829.9 558.4,831.6 559.0,834.0 559.6,835.7 560.2,837.9 560.8,842.0 561.4,841.5 562.0,844.7 562.6,847.0 563.2,849.7 563.8,851.2 564.4,854.8 565.0,856.8 565.6,858.3 566.2,861.3 566.8,863.4 567.4,865.4 568.0,868.7 568.6,869.3 569.2,872.5 569.8,873.9 570.4,876.6 571.0,878.7 571.6,880.5 572.2,881.8 572.8,884.5 573.4,886.8 574.0,890.1 574.6,892.9 575.2,894.6 575.8,895.3 576.4,897.6 577.0,898.4 577.6,899.7 578.2,902.0 578.8,903.6 579.4,904.1 580.0,905.8 580.6,909.6 581.2,910.1 581.8,910.7 582.4,915.4 583.0,915.6 583.6,917.4 584.2,920.6 584.8,921.4 585.4,924.6 586.0,923.9 586.6,925.2 587.2,927.6 587.8,929.2 588.4,932.7 589.0,933.3 589.6,935.7 590.2,937.4 590.8,939.3 591.4,941.1 592.0,942.0 592.6,944.9 593.2,944.6 593.8,946.5 594.4,948.5 595.0,949.6 595.6,950.9 596.2,951.8 596.8,953.1 597.4,954.3 598.0,956.2 598.6,957.0 599.2,959.3 599.8,959.7 600.4,963.2 601.0,964.4 601.6,965.5 602.2,965.6 602.8,966.4 603.4,968.7 604.0,969.4 604.6,970.9 605.2,971.3 605.8,973.3 606.4,973.1 607.0,975.0 607.6,974.8 608.2,976.7 608.8,978.3 609.4,978.2 610.0,979.7 610.6,981.4 611.2,981.9 611.8,983.7 612.4,982.0 613.0,984.6 613.6,985.0 614.2,984.5 614.8,985.4 615.4,987.6 616.0,987.7 616.6,988.9 617.2,990.8 617.8,991.2 618.4,991.8 619.0,991.7 619.6,993.0 620.2,994.0 620.8,994.4 621.4,993.6 622.0,996.2 622.6,996.7 623.2,997.0 623.8,999.1 624.4,997.7 625.0,1000.7 625.6,1000.0 626.2,1001.8 626.8,1001.2 627.4,1000.5 628.0,1001.7 628.6,1002.2 629.2,1003.0 629.8,1003.6 630.4,1002.7 631.0,1004.2 631.6,1004.5 632.2,1004.5 632.8,1004.2 633.4,1004.8 634.0,1006.3 634.6,1006.8 635.2,1006.8 635.8,1006.8 636.4,1008.6 637.0,1007.8 637.6,1009.0 638.2,1009.0 638.8,1009.4 639.4,1010.3 640.0,1010.6 640.6,1011.6 641.2,1012.2 641.8,1011.2 642.4,1012.0 643.0,1012.7 643.6,1012.1 644.2,1012.1 644.8,1014.3 645.4,1013.1 646.0,1014.0 646.6,1014.6 647.2,1014.6 647.8,1014.4 648.4,1014.7 649.0,1014.8 649.6,1014.2 650.2,1014.0 650.8,1015.2 651.4,1014.1 652.0,1014.6 652.6,1016.0 653.2,1017.0 653.8,1016.2 654.4,1015.6 655.0,1016.5 655.6,1014.6 656.2,1015.2 656.8,1016.8 657.4,1016.4 658.0,1015.2 658.6,1014.9 659.2,1016.3 659.8,1016.2 660.4,1015.4 661.0,1016.9 661.6,1016.4 662.2,1015.2 662.8,1016.9 663.4,1016.0 664.0,1015.8 664.6,1015.9 665.2,1017.1 665.8,1016.0 666.4,1017.0 667.0,1016.2 667.6,1017.2 668.2,1016.2 668.8,1015.6 669.4,1014.7 670.0,1015.3 670.6,1016.4 671.2,1017.7 671.8,1015.6 672.4,1015.5 673.0,1017.1 673.6,1017.8 674.2,1017.1 674.8,1017.6 675.4,1015.7 676.0,1015.9 676.6,1016.3 677.2,1016.6 677.8,1015.5 678.4,1015.4 679.0,1015.7 679.6,1016.3 680.2,1016.2 680.8,1015.5 681.4,1016.3 682.0,1016.4 682.6,1015.1 683.2,1014.6 683.8,1015.3 684.4,1015.3 685.0,1015.9 685.6,1015.4 686.2,1015.4 686.8,1015.3 687.4,1015.1 688.0,1015.1 688.6,1014.8 689.2,1014.5 689.8,1015.1 690.4,1013.8 691.0,1014.8 691.6,1014.8 692.2,1015.8 692.8,1014.5 693.4,1013.7 694.0,1013.8 694.6,1013.1 695.2,1012.7 695.8,1014.0 696.4,1013.8 697.0,1013.9 697.6,1014.0 698.2,1013.8 698.8,1013.0 699.4,1012.7 700.0,1013.6 700.6,1012.9 701.2,1013.7 701.8,1013.2 702.4,1012.8 703.0,1012.6 703.6,1013.3 704.2,1013.6 704.8,1012.5 705.4,1012.8 706.0,1013.2 706.6,1011.5 707.2,1011.5 707.8,1010.7 708.4,1012.1 709.0,1011.7 709.6,1011.2 710.2,1010.5 710.8,1011.3 711.4,1012.2 712.0,1011.6 712.6,1011.3 713.2,1011.9 713.8,1010.2 714.4,1010.6 715.0,1011.0 715.6,1009.8 716.2,1009.5 716.8,1009.6 717.4,1009.4 718.0,1009.7 718.6,1010.0 719.2,1010.6 719.8,1009.8 720.4,1009.7 721.0,1010.4 721.6,1010.7 722.2,1010.9 722.8,1009.0 723.4,1010.5 724.0,1010.3 724.6,1009.4 725.2,1010.4 725.8,1010.6 726.4,1011.4 727.0,1010.4 727.6,1011.2 728.2,1010.7 728.8,1010.6 729.4,1011.4 730.0,1011.8 730.6,1011.5 731.2,1012.1 731.8,1012.5 732.4,1011.3 733.0,1012.5 733.6,1012.0 734.2,1012.2 734.8,1012.8 735.4,1013.9 736.0,1012.9 736.6,1012.6 737.2,1013.4 737.8,1012.1 738.4,1012.8 739.0,1012.7 739.6,1014.2 740.2,1013.9 740.8,1014.3 741.4,1014.4 742.0,1014.7 742.6,1014.6 743.2,1014.7 743.8,1015.4 744.4,1015.6 745.0,1016.3 745.6,1015.4 746.2,1016.2 746.8,1016.0 747.4,1018.0 748.0,1016.8 748.6,1017.7 749.2,1018.6 749.8,1018.3 750.4,1018.6 751.0,1017.7 751.6,1018.8 752.2,1018.0 752.8,1019.3 753.4,1019.3 754.0,1019.4 754.6,1020.8 755.2,1021.5 755.8,1021.8 756.4,1022.6 757.0,1022.6 757.6,1023.9 758.2,1025.3 758.8,1023.9 759.4,1025.5 760.0,1025.7 760.6,1027.4 761.2,1027.8 761.8,1027.5 762.4,1026.5 763.0,1028.0 763.6,1029.2 764.2,1028.7 764.8,1030.3 765.4,1029.3 766.0,1029.2 766.6,1030.7 767.2,1030.6 767.8,1031.1 768.4,1031.6 769.0,1033.0 769.6,1033.0 770.2,1034.1 770.8,1034.2 771.4,1033.5 772.0,1035.2 772.6,1035.7 773.2,1036.2 773.8,1037.7 774.4,1038.1 775.0,1039.1 775.6,1040.6 776.2,1040.6 776.8,1040.0 777.4,1041.3 778.0,1042.1 778.6,1042.2 779.2,1042.9 779.8,1043.6 780.4,1045.3 781.0,1045.8 781.6,1047.3 782.2,1047.4 782.8,1048.9 783.4,1050.1 784.0,1050.5 784.6,1050.1 785.2,1051.9 785.8,1051.8 786.4,1054.3 787.0,1055.4 787.6,1055.9 788.2,1056.3 788.8,1056.3 789.4,1057.7 790.0,1058.2 790.6,1060.0 791.2,1060.6 791.8,1062.0 792.4,1063.6 793.0,1065.0 793.6,1064.9 794.2,1067.1 794.8,1068.2 795.4,1066.9 796.0,1068.5 796.6,1069.4 797.2,1070.7 797.8,1071.2 798.4,1072.3 799.0,1073.3 799.6,1074.3 800.2,1075.6 800.8,1076.3 801.4,1077.0 802.0,1077.6 802.6,1078.5 803.2,1078.9 803.8,1080.4 804.4,1080.5 805.0,1082.5 805.6,1083.8 806.2,1083.8 806.8,1084.1 807.4,1086.6 808.0,1087.2 808.6,1086.8 809.2,1089.0 809.8,1090.6 810.4,1091.3 811.0,1092.8 811.6,1093.7 812.2,1094.3 812.8,1094.3 813.4,1095.7 814.0,1097.2 814.6,1098.0 815.2,1097.8 815.8,1098.8 816.4,1100.2 817.0,1100.2 817.6,1101.3 818.2,1103.0 818.8,1104.1 819.4,1104.4 820.0,1104.6 820.6,1106.7 821.2,1106.9 821.8,1109.1 822.4,1109.6 823.0,1110.6 823.6,1111.5 824.2,1111.6 824.8,1112.9 825.4,1114.2 826.0,1114.9 826.6,1116.3 827.2,1116.2 827.8,1117.4 828.4,1118.1 829.0,1118.1 829.6,1119.0 830.2,1119.9 830.8,1120.6 831.4,1122.0 832.0,1123.8 832.6,1124.1 833.2,1124.7 833.8,1124.8 834.4,1126.3 835.0,1127.3 835.6,1128.2 836.2,1128.9 836.8,1129.0 837.4,1129.5 838.0,1130.5 838.6,1130.3 839.2,1131.2 839.8,1132.7 840.4,1132.9 841.0,1134.7 841.6,1133.9 842.2,1135.4 842.8,1135.1 843.4,1136.7 844.0,1137.0 844.6,1138.5 845.2,1139.1 845.8,1139.4 846.4,1140.2 847.0,1141.1 847.6,1140.7 848.2,1142.1 848.8,1142.3 849.4,1142.9 850.0,1144.5 850.6,1143.2 851.2,1144.2 851.8,1144.0 852.4,1144.9 853.0,1145.3 853.6,1147.7 854.2,1146.9 854.8,1148.1 855.4,1149.0 856.0,1148.8 856.6,1149.8 857.2,1151.2 857.8,1150.2 858.4,1150.8 859.0,1151.4 859.6,1150.6 860.2,1151.9 860.8,1152.8 861.4,1153.0 862.0,1153.3 862.6,1153.6 863.2,1154.3 863.8,1154.7 864.4,1155.3 865.0,1155.9 865.6,1156.8 866.2,1156.7 866.8,1157.4 867.4,1158.2 868.0,1157.1 868.6,1158.2 869.2,1158.3 869.8,1158.6 870.4,1159.7 871.0,1159.4 871.6,1159.8 872.2,1159.9 872.8,1160.4 873.4,1161.9 874.0,1159.8 874.6,1161.0 875.2,1160.9 875.8,1161.6 876.4,1161.3 877.0,1160.7 877.6,1162.4 878.2,1161.8 878.8,1162.6 879.4,1162.5 880.0,1162.9 880.6,1163.1 881.2,1164.1 881.8,1164.5 882.4,1164.3 883.0,1165.2 883.6,1165.0 884.2,1165.5 884.8,1165.5 885.4,1165.7 886.0,1165.0 886.6,1165.2 887.2,1165.5 887.8,1165.6 888.4,1165.3 889.0,1166.5 889.6,1166.0 890.2,1166.5 890.8,1166.3 891.4,1166.7 892.0,1165.6 892.6,1167.7 893.2,1167.1 893.8,1166.4 894.4,1166.9 895.0,1167.6 895.6,1167.0 896.2,1166.7 896.8,1167.1 897.4,1167.9 898.0,1167.4 898.6,1168.3 899.2,1168.3 899.8,1169.5 900.4,1168.2 901.0,1168.8 901.6,1168.0 902.2,1168.1 902.8,1169.0 903.4,1169.0 904.0,1168.3 904.6,1169.5 905.2,1169.4 905.8,1168.7 906.4,1168.8 907.0,1168.6 907.6,1168.3 908.2,1168.5 908.8,1169.0 909.4,1169.2 910.0,1168.8 910.6,1169.4 911.2,1168.9 911.8,1169.6 912.4,1169.8 913.0,1169.6 913.6,1170.4 914.2,1170.9 914.8,1170.5 915.4,1169.5 916.0,1170.7 916.6,1170.4 917.2,1170.7 917.8,1170.2 918.4,1170.5 919.0,1171.1 919.6,1171.2 920.2,1171.0 920.8,1171.2 921.4,1171.5 922.0,1172.0 922.6,1172.7 923.2,1171.5 923.8,1172.2 924.4,1172.1 925.0,1172.0 925.6,1172.4 926.2,1172.5 926.8,1171.6 927.4,1171.9 928.0,1172.9 928.6,1172.5 929.2,1172.9 929.8,1172.7 930.4,1172.5 931.0,1172.9 931.6,1172.8 932.2,1172.7 932.8,1173.4 933.4,1174.0 934.0,1173.0 934.6,1174.1 935.2,1174.1 935.8,1173.6 936.4,1173.9 937.0,1173.5 937.6,1173.4 938.2,1173.3 938.8,1172.8 939.4,1173.2 940.0,1174.8 940.6,1174.5 941.2,1174.7 941.8,1174.7 942.4,1175.2 943.0,1174.1 943.6,1175.1 944.2,1174.3 944.8,1174.7 945.4,1175.2 946.0,1174.0 946.6,1174.6 947.2,1174.5 947.8,1174.4 948.4,1174.6 949.0,1174.4 949.6,1174.4 950.2,1175.0 950.8,1175.3 951.4,1174.9 952.0,1174.7 952.6,1176.4 953.2,1176.0 953.8,1175.7 954.4,1175.0 955.0,1174.9 955.6,1175.5 956.2,1175.1 956.8,1176.2 957.4,1176.0 958.0,1175.5 958.6,1174.9 959.2,1174.8 959.8,1174.5 960.4,1175.0 961.0,1174.9 961.6,1175.1 962.2,1175.7 962.8,1175.9 963.4,1176.5 964.0,1175.4 964.6,1175.1 965.2,1175.6 965.8,1176.1 966.4,1175.6 967.0,1175.7 967.6,1175.5 968.2,1175.8 968.8,1175.6 969.4,1175.1 970.0,1175.5 970.6,1176.2 971.2,1176.4 971.8,1176.5 972.4,1176.4 973.0,1176.2 973.6,1175.9 974.2,1176.6 974.8,1175.9 975.4,1176.1 976.0,1175.6 976.6,1175.9 977.2,1175.6 977.8,1175.2 978.4,1175.9 979.0,1175.2 979.6,1175.7 980.2,1176.1 980.8,1175.4 981.4,1176.3 982.0,1175.4 982.6,1175.6 983.2,1175.5 983.8,1176.1 984.4,1176.3 985.0,1176.4 985.6,1176.5 986.2,1176.7 986.8,1177.3 987.4,1176.3 988.0,1176.0 988.6,1175.7 989.2,1176.9 989.8,1177.1 990.4,1176.8 991.0,1176.9 991.6,1176.1 992.2,1176.0 992.8,1176.1 993.4,1176.4 994.0,1176.2 994.6,1175.8 995.2,1176.5 995.8,1176.2 996.4,1175.0 997.0,1176.5 997.6,1176.7 998.2,1175.8 998.8,1176.1 999.4,1175.2 1000.0,1176.3 1000.6,1176.0 1001.2,1176.1 1001.8,1176.4 1002.4,1177.5 1003.0,1176.1 1003.6,1176.1 1004.2,1176.9 1004.8,1176.6 1005.4,1177.2 1006.0,1175.9 1006.6,1175.7 1007.2,1176.0 1007.8,1176.3 1008.4,1176.2 1009.0,1176.6 1009.6,1175.8 1010.2,1176.0 1010.8,1176.4 1011.4,1176.7 1012.0,1176.8 1012.6,1176.5 1013.2,1176.2 1013.8,1177.0 1014.4,1176.9 1015.0,1177.5 1015.6,1176.5 1016.2,1177.2 1016.8,1176.1 1017.4,1176.5 1018.0,1176.5 1018.6,1176.5 1019.2,1176.1 1019.8,1175.9 1020.4,1176.1 1021.0,1176.4 1021.6,1177.2 1022.2,1177.4 1022.8,1177.5 1023.4,1177.9 1024.0,1177.3 1024.6,1177.1 1025.2,1176.8 1025.8,1176.8 1026.4,1177.1 1027.0,1177.1 1027.6,1178.0 1028.2,1178.3 1028.8,1178.1 1029.4,1177.2 1030.0,1176.7 1030.6,1177.0 1031.2,1177.0 1031.8,1177.4 1032.4,1177.3 1033.0,1177.4 1033.6,1178.3 1034.2,1177.6 1034.8,1178.2 1035.4,1178.3 1036.0,1177.3 1036.6,1177.9 1037.2,1177.8 1037.8,1177.4 1038.4,1177.1 1039.0,1177.3 1039.6,1178.0 1040.2,1177.9 1040.8,1178.5 1041.4,1177.9 1042.0,1178.3 1042.6,1178.3 1043.2,1177.8 1043.8,1177.6 1044.4,1178.4 1045.0,1178.3 1045.6,1177.8 1046.2,1178.3 1046.8,1178.5 1047.4,1178.9 1048.0,1177.6 1048.6,1178.0 1049.2,1178.7 1049.8,1177.8 1050.4,1178.5 1051.0,1176.9 1051.6,1178.3 1052.2,1177.7 1052.8,1177.4 1053.4,1178.5 1054.0,1178.4 1054.6,1178.7 1055.2,1178.4 1055.8,1177.8 1056.4,1177.7 1057.0,1177.8 1057.6,1177.7 1058.2,1178.3 1058.8,1177.9 1059.4,1177.9 1060.0,1178.4 1060.6,1178.1 1061.2,1178.9 1061.8,1179.4 1062.4,1178.3 1063.0,1178.7 1063.6,1178.9 1064.2,1178.8 1064.8,1179.9 1065.4,1179.6 1066.0,1179.7 1066.6,1180.3 1067.2,1180.7 1067.8,1180.5 1068.4,1180.6 1069.0,1181.5 1069.6,1181.3 1070.2,1181.4 1070.8,1181.7 1071.4,1180.9 1072.0,1181.6 1072.6,1181.6 1073.2,1182.1 1073.8,1182.0 1074.4,1181.2 1075.0,1182.0 1075.6,1181.2 1076.2,1181.8 1076.8,1181.5 1077.4,1181.1 1078.0,1180.8 1078.6,1181.3 1079.2,1181.6 1079.8,1181.2 1080.4,1182.0 1081.0,1181.2 1081.6,1181.4 1082.2,1181.3 1082.8,1180.4 1083.4,1181.5 1084.0,1181.1 1084.6,1180.7 1085.2,1181.6 1085.8,1181.5 1086.4,1181.8 1087.0,1181.5 1087.6,1182.0 1088.2,1181.8 1088.8,1182.0 1089.4,1181.9 1090.0,1181.8 1090.6,1181.5 1091.2,1181.9 1091.8,1182.4 1092.4,1182.1 1093.0,1181.9 1093.6,1181.5 1094.2,1182.5 1094.8,1182.4 1095.4,1182.2 1096.0,1183.1 1096.6,1183.3 1097.2,1183.3 1097.8,1183.6 1098.4,1183.6 1099.0,1183.1 1099.6,1183.9 1100.2,1184.6 1100.8,1184.9 1101.4,1185.3 1102.0,1183.6 1102.6,1184.4 1103.2,1184.7 1103.8,1184.6 1104.4,1185.2 1105.0,1184.1 1105.6,1184.6 1106.2,1184.3 1106.8,1184.9 1107.4,1184.1 1108.0,1184.8 1108.6,1184.7 1109.2,1184.6 1109.8,1183.8 1110.4,1184.2 1111.0,1184.9 1111.6,1183.8 1112.2,1184.4 1112.8,1184.6 1113.4,1185.1 1114.0,1185.1 1114.6,1184.8 1115.2,1184.6 1115.8,1184.9 1116.4,1184.7 1117.0,1185.1 1117.6,1184.5 1118.2,1184.7 1118.8,1183.5 1119.4,1184.4 1120.0,1183.9 1120.6,1184.2 1121.2,1183.7 1121.8,1184.0 1122.4,1184.1 1123.0,1183.1 1123.6,1183.4 1124.2,1183.2 1124.8,1183.3 1125.4,1182.8 1126.0,1183.1 1126.6,1182.9 1127.2,1183.0 1127.8,1183.3 1128.4,1183.0 1129.0,1184.2 1129.6,1183.5 1130.2,1184.1 1130.8,1183.2 1131.4,1183.4 1132.0,1184.6 1132.6,1184.1 1133.2,1185.0 1133.8,1184.5 1134.4,1184.7 1135.0,1185.1 1135.6,1185.2 1136.2,1186.3 1136.8,1185.9 1137.4,1185.4 1138.0,1186.1 1138.6,1185.3 1139.2,1186.0 1139.8,1185.3 1140.4,1185.5 1141.0,1186.4 1141.6,1185.6 1142.2,1185.8 1142.8,1186.2 1143.4,1186.2 1144.0,1186.9 1144.6,1186.1 1145.2,1186.0 1145.8,1186.8 1146.4,1185.8 1147.0,1186.2 1147.6,1187.2 1148.2,1186.6 1148.8,1186.7 1149.4,1186.7 1150.0,1186.3 1150.6,1186.6 1151.2,1186.6 1151.8,1186.8 1152.4,1186.8 1153.0,1186.4 1153.6,1186.5 1154.2,1187.3 1154.8,1186.4 1155.4,1186.7 1156.0,1186.9 1156.6,1186.6 1157.2,1186.6 1157.8,1187.5 1158.4,1186.6 1159.0,1186.7 1159.6,1187.2 1160.2,1186.8 1160.8,1186.0 1161.4,1187.0 1162.0,1186.2 1162.6,1186.4 1163.2,1186.8 1163.8,1186.6 1164.4,1186.3 1165.0,1187.1 1165.6,1186.7 1166.2,1186.7 1166.8,1187.0 1167.4,1186.5 1168.0,1186.8 1168.6,1186.1 1169.2,1186.0 1169.8,1186.3 1170.4,1185.5 1171.0,1186.7 1171.6,1186.2 1172.2,1187.1 1172.8,1187.6 1173.4,1187.1 1174.0,1186.8 1174.6,1186.7 1175.2,1186.5 1175.8,1186.3 1176.4,1186.1 1177.0,1186.7 1177.6,1187.1 1178.2,1186.4 1178.8,1187.1 1179.4,1187.3 1180.0,1187.1 1180.6,1186.6 1181.2,1187.4 1181.8,1186.8 1182.4,1187.6 1183.0,1188.0 1183.6,1187.2 1184.2,1188.3 1184.8,1188.4 1185.4,1188.6 1186.0,1188.3 1186.6,1188.6 1187.2,1188.0 1187.8,1188.6 1188.4,1188.4 1189.0,1187.8 1189.6,1187.9 1190.2,1188.1 1190.8,1188.3 1191.4,1188.4 1192.0,1188.5 1192.6,1188.3 1193.2,1188.0 1193.8,1187.5 1194.4,1188.7 1195.0,1188.9 1195.6,1188.0 1196.2,1188.0 1196.8,1188.2 1197.4,1188.8 1198.0,1188.4 1198.6,1188.8 1199.2,1188.0 1199.8,1188.0 1200.4,1188.1 1201.0,1187.8 1201.6,1188.6 1202.2,1188.4 1202.8,1188.5 1203.4,1187.8 1204.0,1188.1 1204.6,1187.5 1205.2,1187.8 1205.8,1186.9 1206.4,1187.5 1207.0,1188.0 1207.6,1187.5 1208.2,1187.6 1208.8,1186.8 1209.4,1187.7 1210.0,1187.4 1210.6,1187.0 1211.2,1187.0 1211.8,1186.9 1212.4,1187.3 1213.0,1186.9 1213.6,1186.1 1214.2,1186.5 1214.8,1187.0 1215.4,1186.6 1216.0,1186.6 1216.6,1187.1 1217.2,1187.1 1217.8,1187.3 1218.4,1186.3 1219.0,1186.7 1219.6,1187.0 1220.2,1186.9 1220.8,1187.3 1221.4,1187.8 1222.0,1187.2 1222.6,1187.3 1223.2,1187.2 1223.8,1187.2 1224.4,1187.3 1225.0,1187.3 1225.6,1187.0 1226.2,1188.3 1226.8,1188.2 1227.4,1188.5 1228.0,1187.9 1228.6,1188.3 1229.2,1188.6 1229.8,1188.9 1230.4,1189.1 1231.0,1190.1 1231.6,1189.4 1232.2,1189.8 1232.8,1190.6 1233.4,1190.0 1234.0,1190.8 1234.6,1190.3 1235.2,1190.5 1235.8,1190.2 1236.4,1190.2 1237.0,1190.0 1237.6,1190.3 1238.2,1191.0 1238.8,1190.5 1239.4,1191.0 1240.0,1191.6 1240.6,1191.3 1241.2,1191.8 1241.8,1191.6 1242.4,1192.3 1243.0,1192.2 1243.6,1192.3 1244.2,1192.4 1244.8,1193.1 1245.4,1192.3 1246.0,1191.4 1246.6,1192.3 1247.2,1192.6 1247.8,1192.7 1248.4,1192.4 1249.0,1193.3 1249.6,1192.7 1250.2,1193.0 1250.8,1192.4 1251.4,1192.8 1252.0,1193.0 1252.6,1193.5 1253.2,1193.1 1253.8,1193.1 1254.4,1193.2 1255.0,1192.8 1255.6,1193.3 1256.2,1192.8 1256.8,1193.5 1257.4,1193.2 1258.0,1193.1 1258.6,1192.9 1259.2,1192.4 1259.8,1192.5 1260.4,1192.0 1261.0,1192.2 1261.6,1192.2 1262.2,1191.7 1262.8,1192.6 1263.4,1193.0 1264.0,1192.6 1264.6,1192.8 1265.2,1192.8 1265.8,1192.4 1266.4,1192.1 1267.0,1192.7 1267.6,1192.8 1268.2,1192.6 1268.8,1192.7 1269.4,1192.7 1270.0,1192.5 1270.6,1192.6 1271.2,1192.2 1271.8,1192.3 1272.4,1191.8 1273.0,1192.0 1273.6,1192.3 1274.2,1192.0 1274.8,1191.3 1275.4,1192.4 1276.0,1191.9 1276.6,1193.4 1277.2,1192.7 1277.8,1192.6 1278.4,1191.8 1279.0,1191.5 1279.6,1192.4 1280.2,1192.6 1280.8,1192.6 1281.4,1193.1 1282.0,1193.2 1282.6,1192.9 1283.2,1192.6 1283.8,1192.3 1284.4,1193.5 1285.0,1193.4 1285.6,1194.0 1286.2,1194.5 1286.8,1194.4 1287.4,1194.0 1288.0,1194.4 1288.6,1194.7 1289.2,1193.9 1289.8,1194.2 1290.4,1194.4 1291.0,1194.2 1291.6,1194.4 1292.2,1194.5 1292.8,1194.4 1293.4,1194.0 1294.0,1194.0 1294.6,1193.4 1295.2,1194.5 1295.8,1194.3 1296.4,1193.4 1297.0,1194.3 1297.6,1193.5 1298.2,1194.5 1298.8,1194.3 1299.4,1194.1 1300.0,1194.5 1300.6,1193.7 1301.2,1193.9 1301.8,1193.6 1302.4,1193.1 1303.0,1193.4 1303.6,1193.0 1304.2,1193.6 1304.8,1192.8 1305.4,1193.1 1306.0,1192.6 1306.6,1192.7 1307.2,1192.5 1307.8,1193.5 1308.4,1192.3 1309.0,1192.6 1309.6,1191.9 1310.2,1193.1 1310.8,1192.5 1311.4,1193.0 1312.0,1192.7 1312.6,1193.2 1313.2,1193.3 1313.8,1193.8 1314.4,1193.4 1315.0,1193.5 1315.6,1194.1 1316.2,1193.5 1316.8,1193.4 1317.4,1193.8 1318.0,1192.8 1318.6,1193.9 1319.2,1193.5 1319.8,1193.5 1320.4,1194.0 1321.0,1194.3 1321.6,1193.9 1322.2,1194.1 1322.8,1194.3 1323.4,1194.4 1324.0,1194.2 1324.6,1193.9 1325.2,1194.1 1325.8,1194.1 1326.4,1194.5 1327.0,1194.4 1327.6,1194.2 1328.2,1194.1 1328.8,1193.3 1329.4,1193.1 1330.0,1193.0 1330.6,1194.3 1331.2,1192.5 1331.8,1193.3 1332.4,1193.5 1333.0,1193.0 1333.6,1194.1 1334.2,1193.4 1334.8,1192.9 1335.4,1192.1 1336.0,1192.3 1336.6,1192.3 1337.2,1192.5 1337.8,1192.4 1338.4,1192.2 1339.0,1192.2 1339.6,1192.4 1340.2,1192.0 1340.8,1191.5 1341.4,1190.7 1342.0,1191.7 1342.6,1191.5 1343.2,1190.7 1343.8,1190.7 1344.4,1191.0 1345.0,1190.5 1345.6,1191.2 1346.2,1190.2 1346.8,1190.5 1347.4,1190.7 1348.0,1190.4 1348.6,1190.9 1349.2,1190.8 1349.8,1190.3 1350.4,1190.8 1351.0,1190.5 1351.6,1190.9 1352.2,1190.8 1352.8,1190.5 1353.4,1190.6 1354.0,1190.3 1354.6,1190.7 1355.2,1190.9 1355.8,1191.5 1356.4,1191.2 1357.0,1190.5 1357.6,1191.3 1358.2,1191.2 1358.8,1190.9 1359.4,1191.3 1360.0,1192.0 1360.6,1191.6 1361.2,1192.0 1361.8,1192.3 1362.4,1191.7 1363.0,1192.1 1363.6,1192.1 1364.2,1191.9 1364.8,1191.9 1365.4,1192.7 1366.0,1192.9 1366.6,1192.4 1367.2,1192.2 1367.8,1192.6 1368.4,1192.6 1369.0,1193.1 1369.6,1193.2 1370.2,1192.6 1370.8,1192.6 1371.4,1192.3 1372.0,1192.2 1372.6,1193.1 1373.2,1192.9 1373.8,1192.5 1374.4,1193.1 1375.0,1192.7 1375.6,1193.0 1376.2,1192.2 1376.8,1192.1 1377.4,1192.4 1378.0,1192.8 1378.6,1192.5 1379.2,1192.3 1379.8,1192.1 1380.4,1192.3 1381.0,1192.1 1381.6,1192.5 1382.2,1192.5 1382.8,1192.3 1383.4,1192.7 1384.0,1192.3 1384.6,1192.9 1385.2,1192.8 1385.8,1193.2 1386.4,1192.7 1387.0,1193.1 1387.6,1193.2 1388.2,1192.3 1388.8,1193.1 1389.4,1192.2 1390.0,1192.4 1390.6,1192.8 1391.2,1193.1 1391.8,1193.5 1392.4,1194.2 1393.0,1193.6 1393.6,1193.4 1394.2,1193.2 1394.8,1193.3 1395.4,1193.5 1396.0,1193.1 1396.6,1192.9 1397.2,1193.3 1397.8,1193.6 1398.4,1193.6 1399.0,1193.7 1399.6,1193.4 1400.2,1194.2 1400.8,1194.9 1401.4,1194.7 1402.0,1193.7 1402.6,1194.7 1403.2,1194.4 1403.8,1195.4 1404.4,1194.9 1405.0,1194.5 1405.6,1195.3 1406.2,1194.9 1406.8,1195.5 1407.4,1195.2 1408.0,1194.6 1408.6,1195.4 1409.2,1194.6 1409.8,1195.6 1410.4,1195.4 1411.0,1195.0 1411.6,1195.0 1412.2,1196.4 1412.8,1196.4 1413.4,1195.8 1414.0,1197.0 1414.6,1196.6 1415.2,1196.6 1415.8,1196.5 1416.4,1196.5 1417.0,1196.9 1417.6,1196.4 1418.2,1195.9 1418.8,1197.2 1419.4,1197.0 1420.0,1196.3 1420.6,1196.7 1421.2,1196.5 1421.8,1196.8 1422.4,1197.1 1423.0,1197.0 1423.6,1196.8 1424.2,1196.6 1424.8,1196.9"/>
<path stroke="#0000ff" d="M296.5,221.0 297.1,223.0 297.7,224.5 298.3,226.7 298.9,226.6 299.5,226.3 300.1,229.0 300.7,232.1 301.3,226.9 301.9,225.9 302.5,231.8 303.1,232.0 303.7,231.4 304.3,228.1 304.9,230.6 305.5,232.4 306.1,217.3 306.7,230.0 307.3,225.4 307.9,230.0 308.5,230.0 309.1,239.7 309.7,240.6 310.3,248.2 310.9,250.7 311.5,252.1 312.1,246.0 312.7,253.8 313.3,257.8 313.9,258.3 314.5,253.2 315.1,261.8 315.7,264.2 316.3,265.0 316.9,271.0 317.5,265.6 318.1,268.5 318.7,272.7 319.3,268.6 319.9,273.2 320.5,274.6 321.1,275.3 321.7,274.3 322.3,279.8 322.9,285.6 323.5,280.9 324.1,289.9 324.7,290.5 325.3,289.6 325.9,297.7 326.5,296.5 327.1,294.6 327.7,297.7 328.3,303.0 328.9,296.6 329.5,300.9 330.1,300.7 330.7,303.4 331.3,305.6 331.9,295.9 332.5,304.5 333.1,303.8 333.7,306.1 334.3,304.0 334.9,304.7 335.5,306.7 336.1,311.0 336.7,311.7 337.3,310.9 337.9,313.9 338.5,317.2 339.1,314.3 339.7,319.3 340.3,322.4 340.9,327.1 341.5,327.9 342.1,326.2 342.7,325.7 343.3,322.1 343.9,329.9 344.5,326.7 345.1,326.8 345.7,329.7 346.3,328.9 346.9,330.1 347.5,330.5 348.1,333.6 348.7,335.5 349.3,341.1 349.9,342.6 350.5,345.4 351.1,351.6 351.7,353.0 352.3,356.4 352.9,354.6 353.5,355.6 354.1,354.6 354.7,358.0 355.3,354.5 355.9,353.9 356.5,355.5 357.1,356.4 357.7,362.0 358.3,370.1 358.9,368.4 359.5,367.1 360.1,366.1 360.7,362.3 361.3,357.4 361.9,355.2 362.5,354.9 363.1,356.5 363.7,372.5 364.3,378.1 364.9,377.5 365.5,373.2 366.1,372.4 366.7,368.1 367.3,368.2 367.9,367.2 368.5,368.4 369.1,372.1 369.7,378.4 370.3,379.3 370.9,384.0 371.5,385.6 372.1,381.5 372.7,385.3 373.3,380.0 373.9,381.8 374.5,376.9 375.1,378.3 375.7,378.4 376.3,381.5 376.9,391.8 377.5,392.6 378.1,389.9 378.7,389.7 379.3,389.7 379.9,388.2 380.5,392.0 381.1,390.6 381.7,390.8 382.3,390.2 382.9,390.5 383.5,388.9 384.1,392.4 384.7,392.2 385.3,394.5 385.9,394.4 386.5,401.3 387.1,406.1 387.7,406.7 388.3,408.9 388.9,407.8 389.5,408.2 390.1,407.9 390.7,408.6 391.3,412.3 391.9,410.1 392.5,408.7 393.1,409.5 393.7,409.3 394.3,402.5 394.9,402.2 395.5,399.2 396.1,396.8 396.7,398.8 397.3,397.1 397.9,397.9 398.5,397.8 399.1,402.9 399.7,405.0 400.3,408.1 400.9,409.4 401.5,411.6 402.1,417.8 402.7,416.3 403.3,419.1 403.9,418.8 404.5,418.6 405.1,418.8 405.7,419.4 406.3,418.0 406.9,416.8 407.5,417.4 408.1,418.2 408.7,418.5 409.3,419.1 409.9,417.0 410.5,414.3 411.1,419.6 411.7,423.2 412.3,419.3 412.9,421.0 413.5,421.6 414.1,421.2 414.7,422.8 415.3,420.8 415.9,423.0 416.5,418.6 417.1,421.2 417.7,420.5 418.3,419.6 418.9,421.5 419.5,423.5 420.1,424.3 420.7,429.5 421.3,434.1 421.9,433.3 422.5,435.3 423.1,437.3 423.7,435.3 424.3,435.1 424.9,437.4 425.5,437.3 426.1,436.6 426.7,436.4 427.3,435.0 427.9,435.0 428.5,437.6 429.1,439.1 429.7,440.0 430.3,445.2 430.9,445.8 431.5,447.5 432.1,447.6 432.7,449.6 433.3,450.7 433.9,451.3 434.5,452.8 435.1,450.9 435.7,452.0 436.3,452.2 436.9,456.2 437.5,450.6 438.1,452.8 438.7,449.9 439.3,449.1 439.9,446.2 440.5,446.4 441.1,445.8 441.7,440.6 442.3,441.3 442.9,441.3 443.5,443.4 444.1,444.0 444.7,440.7 445.3,444.9 445.9,443.8 446.5,441.4 447.1,443.8 447.7,446.5 448.3,444.2 448.9,442.3 449.5,441.7 450.1,443.1 450.7,441.3 451.3,441.9 451.9,441.5 452.5,442.3 453.1,444.3 453.7,444.8 454.3,446.5 454.9,447.0 455.5,453.4 456.1,453.0 456.7,458.3 457.3,457.3 457.9,457.5 458.5,457.5 459.1,455.3 459.7,457.2 460.3,456.6 460.9,452.4 461.5,453.0 462.1,451.7 462.7,448.1 463.3,450.4 463.9,449.5 464.5,448.8 465.1,445.9 465.7,446.2 466.3,444.8 466.9,446.0 467.5,446.4 468.1,448.5 468.7,452.6 469.3,451.3 469.9,451.9 470.5,450.1 471.1,455.2 471.7,455.0 472.3,455.5 472.9,456.0 473.5,456.0 474.1,456.5 474.7,456.7 475.3,458.0 475.9,458.7 476.5,460.8 477.1,460.1 477.7,458.2 478.3,459.2 478.9,458.7 479.5,461.3 480.1,461.4 480.7,467.8 481.3,469.1 481.9,469.0 482.5,470.6 483.1,471.4 483.7,471.2 484.3,473.1 484.9,473.5 485.5,474.8 486.1,472.9 486.7,472.1 487.3,470.5 487.9,470.6 488.5,465.1 489.1,469.6 489.7,470.0 490.3,468.4 490.9,468.7 491.5,468.8 492.1,469.7 492.7,469.3 493.3,471.2 493.9,473.8 494.5,472.4 495.1,474.3 495.7,477.2 496.3,480.9 496.9,477.7 497.5,478.9 498.1,480.1 498.7,476.9 499.3,478.1 499.9,477.9 500.5,477.5 501.1,477.5 501.7,479.3 502.3,475.9 502.9,477.0 503.5,477.3 504.1,479.3 504.7,481.9 505.3,482.8 505.9,481.0 506.5,481.2 507.1,481.1 507.7,480.5 508.3,479.8 508.9,479.6 509.5,479.4 510.1,478.6 510.7,479.6 511.3,480.7 511.9,483.2 512.5,485.6 513.1,487.9 513.7,488.6 514.3,489.4 514.9,489.4 515.5,492.3 516.1,491.7 516.7,491.6 517.3,494.8 517.9,495.8 518.5,495.2 519.1,494.2 519.7,494.0 520.3,495.7 520.9,498.1 521.5,501.1 522.1,501.1 522.7,503.5 523.3,502.4 523.9,503.9 524.5,504.5 525.1,503.5 525.7,504.4 526.3,503.4 526.9,505.4 527.5,505.1 528.1,505.5 528.7,504.1 529.3,505.3 529.9,505.2 530.5,505.9 531.1,508.1 531.7,509.5 532.3,511.7 532.9,515.4 533.5,516.0 534.1,517.6 534.7,519.8 535.3,518.1 535.9,519.5 536.5,521.0 537.1,522.3 537.7,523.9 538.3,527.0 538.9,528.8 539.5,529.7 540.1,531.4 540.7,534.8 541.3,536.1 541.9,535.6 542.5,540.3 543.1,541.0 543.7,543.9 544.3,545.1 544.9,546.5 545.5,547.1 546.1,550.1 546.7,548.9 547.3,551.0 547.9,550.1 548.5,551.4 549.1,549.8 549.7,551.8 550.3,553.5 550.9,553.7 551.5,558.3 552.1,559.7 552.7,560.4 553.3,562.6 553.9,563.0 554.5,566.1 555.1,567.4 555.7,568.8 556.3,572.0 556.9,573.5 557.5,576.0 558.1,579.7 558.7,582.4 559.3,581.6 559.9,585.1 560.5,586.9 561.1,588.7 561.7,592.6 562.3,592.7 562.9,597.2 563.5,596.5 564.1,599.8 564.7,601.9 565.3,602.9 565.9,606.3 566.5,607.1 567.1,609.8 567.7,610.3 568.3,610.7 568.9,613.3 569.5,613.4 570.1,615.1 570.7,614.6 571.3,617.1 571.9,617.3 572.5,621.2 573.1,620.3 573.7,620.8 574.3,623.6 574.9,627.1 575.5,627.0 576.1,630.2 576.7,632.9 577.3,633.6 577.9,635.8 578.5,634.0 579.1,635.0 579.7,637.9 580.3,638.8 580.9,642.7 581.5,643.2 582.1,644.4 582.7,645.0 583.3,650.0 583.9,648.7 584.5,650.2 585.1,650.4 585.7,651.9 586.3,653.7 586.9,657.0 587.5,655.6 588.1,655.8 588.7,656.9 589.3,657.5 589.9,660.9 590.5,662.2 591.1,661.8 591.7,661.5 592.3,665.1 592.9,667.6 593.5,665.2 594.1,668.9 594.7,667.7 595.3,672.0 595.9,671.6 596.5,673.5 597.1,673.0 597.7,675.0 598.3,677.8 598.9,678.8 599.5,679.6 600.1,679.6 600.7,679.9 601.3,681.9 601.9,682.9 602.5,684.1 603.1,685.6 603.7,685.9 604.3,688.1 604.9,689.3 605.5,691.2 606.1,692.5 606.7,691.7 607.3,692.5 607.9,693.9 608.5,694.5 609.1,695.0 609.7,696.3 610.3,696.6 610.9,698.9 611.5,699.3 612.1,700.7 612.7,701.9 613.3,702.5 613.9,703.6 614.5,705.9 615.1,704.4 615.7,706.1 616.3,706.6 616.9,706.9 617.5,709.5 618.1,707.7 618.7,710.9 619.3,711.8 619.9,711.3 620.5,713.9 621.1,714.2 621.7,715.3 622.3,716.4 622.9,717.9 623.5,718.9 624.1,720.4 624.7,721.2 625.3,722.3 625.9,722.5 626.5,724.6 627.1,725.0 627.7,725.5 628.3,725.7 628.9,727.0 629.5,726.4 630.1,728.4 630.7,728.5 631.3,728.1 631.9,729.4 632.5,729.7 633.1,731.2 633.7,731.7 634.3,733.6 634.9,734.6 635.5,734.0 636.1,736.9 636.7,738.4 637.3,738.5 637.9,738.9 638.5,738.1 639.1,740.1 639.7,740.6 640.3,739.3 640.9,741.6 641.5,740.8 642.1,741.2 642.7,742.4 643.3,744.1 643.9,743.6 644.5,745.0 645.1,746.6 645.7,747.6 646.3,747.0 646.9,747.2 647.5,747.0 648.1,747.9 648.7,749.6 649.3,750.6 649.9,751.1 650.5,752.2 651.1,751.9 651.7,752.8 652.3,753.8 652.9,754.6 653.5,755.6 654.1,755.6 654.7,755.9 655.3,756.7 655.9,756.6 656.5,757.0 657.1,759.0 657.7,759.3 658.3,759.9 658.9,759.3 659.5,760.7 660.1,760.4 660.7,761.2 661.3,758.4 661.9,762.2 662.5,764.0 663.1,763.7 663.7,764.2 664.3,765.5 664.9,766.3 665.5,765.0 666.1,766.7 666.7,768.0 667.3,768.8 667.9,769.4 668.5,769.7 669.1,769.3 669.7,770.0 670.3,770.9 670.9,770.7 671.5,771.9 672.1,772.9 672.7,774.9 673.3,773.9 673.9,774.7 674.5,776.0 675.1,777.0 675.7,777.1 676.3,780.0 676.9,777.0 677.5,778.3 678.1,778.3 678.7,779.1 679.3,780.4 679.9,779.1 680.5,780.0 681.1,781.8 681.7,780.9 682.3,780.6 682.9,782.7 683.5,782.7 684.1,783.5 684.7,784.0 685.3,785.3 685.9,785.2 686.5,786.6 687.1,785.2 687.7,785.8 688.3,786.6 688.9,786.5 689.5,788.1 690.1,788.1 690.7,787.7 691.3,788.5 691.9,788.3 692.5,789.6 693.1,789.4 693.7,789.7 694.3,791.4 694.9,792.5 695.5,792.6 696.1,792.3 696.7,792.5 697.3,793.5 697.9,793.1 698.5,792.6 699.1,793.7 699.7,794.3 700.3,794.3 700.9,794.8 701.5,795.4 702.1,797.5 702.7,796.7 703.3,797.3 703.9,798.2 704.5,798.6 705.1,799.1 705.7,800.0 706.3,799.2 706.9,800.2 707.5,798.7 708.1,801.2 708.7,800.6 709.3,800.6 709.9,801.6 710.5,802.4 711.1,804.3 711.7,803.6 712.3,804.2 712.9,805.1 713.5,807.0 714.1,806.1 714.7,806.2 715.3,807.0 715.9,808.2 716.5,807.5 717.1,807.7 717.7,808.8 718.3,809.3 718.9,809.8 719.5,809.3 720.1,811.2 720.7,811.9 721.3,811.5 721.9,812.5 722.5,811.8 723.1,813.6 723.7,813.7 724.3,814.5 724.9,815.1 725.5,815.1 726.1,815.0 726.7,816.5 727.3,816.6 727.9,817.5 728.5,818.1 729.1,818.9 729.7,818.2 730.3,820.6 730.9,821.2 731.5,822.6 732.1,822.7 732.7,822.0 733.3,821.1 733.9,822.5 734.5,822.9 735.1,823.9 735.7,825.1 736.3,824.1 736.9,826.1 737.5,825.8 738.1,827.4 738.7,828.3 739.3,828.5 739.9,828.8 740.5,829.2 741.1,829.6 741.7,830.3 742.3,832.3 742.9,833.8 743.5,834.6 744.1,834.1 744.7,834.0 745.3,834.5 745.9,836.3 746.5,836.4 747.1,837.4 747.7,837.7 748.3,838.6 748.9,839.0 749.5,839.5 750.1,838.8 750.7,840.1 751.3,842.3 751.9,841.9 752.5,842.8 753.1,843.6 753.7,844.5 754.3,843.7 754.9,845.0 755.5,846.4 756.1,847.0 756.7,847.5 757.3,849.0 757.9,848.5 758.5,849.3 759.1,849.6 759.7,851.9 760.3,850.5 760.9,852.3 761.5,853.3 762.1,854.5 762.7,855.6 763.3,856.6 763.9,855.7 764.5,857.5 765.1,857.5 765.7,858.6 766.3,859.9 766.9,859.7 767.5,861.4 768.1,863.2 768.7,863.6 769.3,864.6 769.9,865.1 770.5,865.5 771.1,866.8 771.7,866.5 772.3,866.6 772.9,868.0 773.5,868.6 774.1,869.1 774.7,870.7 775.3,871.0 775.9,871.3 776.5,874.0 777.1,874.9 777.7,875.7 778.3,876.5 778.9,877.1 779.5,877.8 780.1,879.5 780.7,880.5 781.3,880.5 781.9,880.9 782.5,880.0 783.1,881.4 783.7,882.5 784.3,883.5 784.9,883.7 785.5,886.5 786.1,886.0 786.7,886.1 787.3,886.6 787.9,887.8 788.5,889.0 789.1,889.1 789.7,890.8 790.3,891.2 790.9,892.8 791.5,892.9 792.1,893.7 792.7,894.8 793.3,895.8 793.9,894.8 794.5,895.8 795.1,896.3 795.7,898.4 796.3,897.9 796.9,898.9 797.5,900.2 798.1,900.2 798.7,900.8 799.3,902.0 799.9,901.9 800.5,902.8 801.1,904.2 801.7,904.6 802.3,904.8 802.9,904.9 803.5,906.4 804.1,907.9 804.7,908.7 805.3,909.3 805.9,909.6 806.5,911.2 807.1,911.6 807.7,911.8 808.3,912.8 808.9,914.6 809.5,914.1 810.1,915.0 810.7,914.7 811.3,916.2 811.9,916.4 812.5,917.7 813.1,919.9 813.7,919.7 814.3,919.5 814.9,919.8 815.5,920.6 816.1,921.5 816.7,919.8 817.3,921.7 817.9,921.9 818.5,923.7 819.1,924.5 819.7,925.8 820.3,926.0 820.9,927.2 821.5,925.9 822.1,928.2 822.7,929.5 823.3,929.7 823.9,929.9 824.5,930.8 825.1,932.4 825.7,931.4 826.3,932.4 826.9,933.3 827.5,933.7 828.1,933.3 828.7,934.3 829.3,934.3 829.9,935.0 830.5,935.4 831.1,935.8 831.7,936.6 832.3,937.5 832.9,937.3 833.5,938.2 834.1,939.6 834.7,939.4 835.3,940.9 835.9,941.0 836.5,943.1 837.1,944.5 837.7,946.8 838.3,944.6 838.9,945.4 839.5,946.0 840.1,947.0 840.7,948.5 841.3,948.0 841.9,950.2 842.5,950.3 843.1,951.8 843.7,951.7 844.3,951.6 844.9,952.5 845.5,952.8 846.1,952.9 846.7,953.6 847.3,953.6 847.9,953.0 848.5,954.5 849.1,954.3 849.7,953.9 850.3,954.4 850.9,955.7 851.5,955.5 852.1,955.8 852.7,956.4 853.3,957.1 853.9,956.2 854.5,957.8 855.1,957.7 855.7,958.2 856.3,959.6 856.9,959.2 857.5,958.4 858.1,958.9 858.7,959.9 859.3,960.5 859.9,959.5 860.5,961.4 861.1,962.0 861.7,961.6 862.3,962.1 862.9,962.4 863.5,962.7 864.1,963.6 864.7,964.4 865.3,964.9 865.9,965.1 866.5,965.4 867.1,966.3 867.7,965.8 868.3,966.6 868.9,967.4 869.5,967.8 870.1,969.4 870.7,968.0 871.3,968.8 871.9,968.5 872.5,969.9 873.1,970.3 873.7,968.9 874.3,969.8 874.9,970.9 875.5,971.3 876.1,971.5 876.7,971.8 877.3,972.3 877.9,972.7 878.5,973.1 879.1,973.8 879.7,972.5 880.3,974.4 880.9,973.5 881.5,974.5 882.1,973.9 882.7,974.0 883.3,974.8 883.9,974.8 884.5,975.4 885.1,975.1 885.7,976.5 886.3,977.0 886.9,977.9 887.5,978.2 888.1,979.2 888.7,979.2 889.3,979.3 889.9,979.8 890.5,980.3 891.1,979.7 891.7,980.2 892.3,980.2 892.9,980.9 893.5,980.9 894.1,982.1 894.7,981.6 895.3,982.4 895.9,981.8 896.5,982.7 897.1,983.4 897.7,982.8 898.3,984.4 898.9,984.2 899.5,984.6 900.1,985.5 900.7,984.7 901.3,985.2 901.9,986.5 902.5,986.3 903.1,986.9 903.7,987.3 904.3,985.9 904.9,986.8 905.5,985.9 906.1,987.2 906.7,986.8 907.3,987.0 907.9,987.5 908.5,988.0 909.1,986.9 909.7,987.3 910.3,987.8 910.9,987.2 911.5,988.1 912.1,989.1 912.7,987.7 913.3,989.0 913.9,988.0 914.5,989.3 915.1,989.1 915.7,989.5 916.3,990.1 916.9,990.9 917.5,990.4 918.1,990.3 918.7,989.8 919.3,990.8 919.9,991.0 920.5,992.3 921.1,992.6 921.7,993.8 922.3,992.1 922.9,993.0 923.5,993.6 924.1,993.6 924.7,993.9 925.3,994.2 925.9,993.8 926.5,995.1 927.1,996.1 927.7,995.8 928.3,995.3 928.9,995.4 929.5,995.7 930.1,996.6 930.7,995.4 931.3,995.9 931.9,996.7 932.5,996.9 933.1,996.8 933.7,996.6 934.3,996.8 934.9,997.6 935.5,996.9 936.1,998.3 936.7,997.6 937.3,998.4 937.9,999.6 938.5,999.5 939.1,999.1 939.7,1000.3 940.3,1000.6 940.9,999.9 941.5,999.5 942.1,1000.1 942.7,999.6 943.3,1001.0 943.9,999.5 944.5,1000.1 945.1,1000.6 945.7,1001.1 946.3,1001.0 946.9,1000.9 947.5,1001.0 948.1,1001.8 948.7,1000.4 949.3,1001.9 949.9,1001.4 950.5,1001.7 951.1,1001.9 951.7,1001.2 952.3,1001.8 952.9,1003.1 953.5,1003.5 954.1,1003.7 954.7,1005.3 955.3,1006.6 955.9,1003.8 956.5,1004.8 957.1,1005.7 957.7,1005.4 958.3,1005.4 958.9,1005.6 959.5,1005.6 960.1,1005.9 960.7,1006.4 961.3,1007.1 961.9,1006.7 962.5,1007.0 963.1,1006.6 963.7,1007.6 964.3,1007.5 964.9,1008.1 965.5,1008.6 966.1,1008.2 966.7,1008.5 967.3,1008.4 967.9,1008.7 968.5,1009.1 969.1,1009.3 969.7,1010.1 970.3,1009.2 970.9,1010.6 971.5,1009.8 972.1,1009.1 972.7,1009.5 973.3,1009.1 973.9,1009.3 974.5,1009.0 975.1,1010.5 975.7,1009.8 976.3,1009.5 976.9,1009.9 977.5,1009.6 978.1,1011.2 978.7,1011.6 979.3,1011.9 979.9,1011.0 980.5,1011.3 981.1,1012.4 981.7,1011.8 982.3,1011.6 982.9,1012.0 983.5,1013.1 984.1,1012.7 984.7,1012.3 985.3,1012.4 985.9,1012.5 986.5,1011.8 987.1,1011.8 987.7,1012.4 988.3,1012.0 988.9,1013.0 989.5,1013.2 990.1,1014.2 990.7,1013.3 991.3,1013.3 991.9,1013.6 992.5,1014.3 993.1,1014.6 993.7,1014.2 994.3,1014.0 994.9,1013.8 995.5,1014.6 996.1,1015.1 996.7,1015.1 997.3,1014.9 997.9,1014.8 998.5,1015.3 999.1,1016.1 999.7,1015.7 1000.3,1016.6 1000.9,1016.4 1001.5,1016.5 1002.1,1018.2 1002.7,1016.3 1003.3,1017.5 1003.9,1018.9 1004.5,1017.9 1005.1,1017.9 1005.7,1018.5 1006.3,1018.8 1006.9,1018.7 1007.5,1017.9 1008.1,1018.8 1008.7,1018.4 1009.3,1018.9 1009.9,1019.5 1010.5,1019.8 1011.1,1020.3 1011.7,1020.2 1012.3,1021.2 1012.9,1022.0 1013.5,1022.2 1014.1,1022.9 1014.7,1022.6 1015.3,1022.6 1015.9,1023.2 1016.5,1021.3 1017.1,1022.1 1017.7,1022.0 1018.3,1022.7 1018.9,1022.6 1019.5,1023.6 1020.1,1024.2 1020.7,1024.6 1021.3,1024.7 1021.9,1024.2 1022.5,1024.3 1023.1,1024.3 1023.7,1025.6 1024.3,1025.3 1024.9,1026.2 1025.5,1027.1 1026.1,1026.6 1026.7,1026.5 1027.3,1027.1 1027.9,1027.0 1028.5,1027.1 1029.1,1028.1 1029.7,1027.9 1030.3,1027.5 1030.9,1029.0 1031.5,1029.8 1032.1,1029.0 1032.7,1029.0 1033.3,1029.3 1033.9,1029.8 1034.5,1030.6 1035.1,1031.2 1035.7,1031.4 1036.3,1031.5 1036.9,1031.3 1037.5,1031.2 1038.1,1030.6 1038.7,1031.7 1039.3,1032.2 1039.9,1031.9 1040.5,1032.3 1041.1,1032.1 1041.7,1032.0 1042.3,1035.5 1042.9,1033.6 1043.5,1033.3 1044.1,1033.8 1044.7,1033.5 1045.3,1033.1 1045.9,1031.7 1046.5,1032.5 1047.1,1032.8 1047.7,1032.9 1048.3,1033.9 1048.9,1034.6 1049.5,1033.9 1050.1,1033.7 1050.7,1036.7 1051.3,1033.8 1051.9,1033.7 1052.5,1034.5 1053.1,1034.8 1053.7,1034.1 1054.3,1034.8 1054.9,1033.8 1055.5,1033.8 1056.1,1034.6 1056.7,1035.5 1057.3,1035.2 1057.9,1036.7 1058.5,1035.9 1059.1,1037.3 1059.7,1035.7 1060.3,1036.7 1060.9,1036.0 1061.5,1036.0 1062.1,1036.9 1062.7,1037.6 1063.3,1038.1 1063.9,1038.6 1064.5,1038.4 1065.1,1038.7 1065.7,1039.6 1066.3,1039.6 1066.9,1040.5 1067.5,1040.4 1068.1,1041.3 1068.7,1042.0 1069.3,1042.3 1069.9,1040.8 1070.5,1040.4 1071.1,1040.2 1071.7,1041.4 1072.3,1040.5 1072.9,1041.8 1073.5,1042.6 1074.1,1042.6 1074.7,1042.3 1075.3,1041.8 1075.9,1041.5 1076.5,1042.2 1077.1,1041.7 1077.7,1041.2 1078.3,1041.5 1078.9,1042.7 1079.5,1040.9 1080.1,1042.0 1080.7,1041.3 1081.3,1041.1 1081.9,1041.7 1082.5,1041.3 1083.1,1042.0 1083.7,1041.5 1084.3,1045.1 1084.9,1042.3 1085.5,1043.2 1086.1,1042.9 1086.7,1041.4 1087.3,1042.8 1087.9,1043.2 1088.5,1044.3 1089.1,1043.9 1089.7,1044.9 1090.3,1043.8 1090.9,1045.3 1091.5,1045.6 1092.1,1045.0 1092.7,1045.2 1093.3,1044.7 1093.9,1046.0 1094.5,1047.0 1095.1,1045.9 1095.7,1046.2 1096.3,1046.2 1096.9,1045.9 1097.5,1047.1 1098.1,1046.3 1098.7,1047.2 1099.3,1047.7 1099.9,1048.5 1100.5,1048.8 1101.1,1048.8 1101.7,1048.3 1102.3,1048.2 1102.9,1048.8 1103.5,1048.1 1104.1,1049.2 1104.7,1049.6 1105.3,1049.8 1105.9,1049.0 1106.5,1048.9 1107.1,1048.7 1107.7,1049.6 1108.3,1049.8 1108.9,1050.9 1109.5,1049.3 1110.1,1050.1 1110.7,1050.7 1111.3,1049.2 1111.9,1049.7 1112.5,1050.9 1113.1,1050.3 1113.7,1050.2 1114.3,1050.5 1114.9,1051.7 1115.5,1051.2 1116.1,1050.7 1116.7,1050.8 1117.3,1052.9 1117.9,1052.2 1118.5,1051.2 1119.1,1051.9 1119.7,1052.1 1120.3,1051.5 1120.9,1052.6 1121.5,1053.5 1122.1,1053.6 1122.7,1053.1 1123.3,1054.2 1123.9,1055.3 1124.5,1056.0 1125.1,1054.5 1125.7,1056.9 1126.3,1055.0 1126.9,1056.1 1127.5,1056.4 1128.1,1057.1 1128.7,1056.9 1129.3,1056.5 1129.9,1057.5 1130.5,1057.1 1131.1,1056.7 1131.7,1059.5 1132.3,1058.8 1132.9,1059.0 1133.5,1057.7 1134.1,1058.8 1134.7,1059.0 1135.3,1059.6 1135.9,1059.5 1136.5,1059.2 1137.1,1059.9 1137.7,1058.8 1138.3,1058.7 1138.9,1059.9 1139.5,1059.7 1140.1,1060.2 1140.7,1060.3 1141.3,1061.6 1141.9,1060.2 1142.5,1059.3 1143.1,1060.1 1143.7,1059.5 1144.3,1059.7 1144.9,1060.5 1145.5,1059.7 1146.1,1060.0 1146.7,1059.5 1147.3,1060.2 1147.9,1060.5 1148.5,1059.5 1149.1,1060.2 1149.7,1060.1 1150.3,1059.8 1150.9,1059.8 1151.5,1061.1 1152.1,1061.2 1152.7,1060.6 1153.3,1060.1 1153.9,1061.0 1154.5,1060.6 1155.1,1061.3 1155.7,1061.3 1156.3,1061.3 1156.9,1061.8 1157.5,1061.6 1158.1,1062.0 1158.7,1061.6 1159.3,1062.5 1159.9,1061.9 1160.5,1062.7 1161.1,1062.3 1161.7,1063.1 1162.3,1063.6 1162.9,1062.9 1163.5,1063.7 1164.1,1063.9 1164.7,1064.7 1165.3,1065.8 1165.9,1065.5 1166.5,1065.0 1167.1,1066.5 1167.7,1064.9 1168.3,1066.3 1168.9,1065.8 1169.5,1064.5 1170.1,1067.1 1170.7,1066.9 1171.3,1065.2 1171.9,1066.0 1172.5,1066.0 1173.1,1066.5 1173.7,1065.8 1174.3,1066.3 1174.9,1067.0 1175.5,1066.5 1176.1,1067.0 1176.7,1066.6 1177.3,1067.7 1177.9,1066.3 1178.5,1067.3 1179.1,1066.5 1179.7,1066.9 1180.3,1068.2 1180.9,1066.8 1181.5,1067.5 1182.1,1067.3 1182.7,1066.8 1183.3,1067.4 1183.9,1067.4 1184.5,1067.7 1185.1,1068.9 1185.7,1068.9 1186.3,1068.7 1186.9,1068.4 1187.5,1069.0 1188.1,1069.1 1188.7,1070.8 1189.3,1070.7 1189.9,1069.8 1190.5,1069.3 1191.1,1069.5 1191.7,1069.3 1192.3,1069.6 1192.9,1070.0 1193.5,1070.6 1194.1,1071.0 1194.7,1071.9 1195.3,1071.5 1195.9,1071.8 1196.5,1071.6 1197.1,1073.1 1197.7,1073.0 1198.3,1074.0 1198.9,1073.4 1199.5,1074.0 1200.1,1073.1 1200.7,1073.8 1201.3,1074.9 1201.9,1072.9 1202.5,1074.1 1203.1,1074.6 1203.7,1074.2 1204.3,1074.6 1204.9,1075.2 1205.5,1073.7 1206.1,1074.4 1206.7,1074.0 1207.3,1074.2 1207.9,1074.8 1208.5,1075.1 1209.1,1075.4 1209.7,1075.3 1210.3,1074.4 1210.9,1076.5 1211.5,1076.2 1212.1,1076.2 1212.7,1075.5 1213.3,1075.3 1213.9,1075.8 1214.5,1075.6 1215.1,1074.6 1215.7,1076.0 1216.3,1076.8 1216.9,1075.1 1217.5,1076.4 1218.1,1076.2 1218.7,1076.3 1219.3,1076.6 1219.9,1075.7 1220.5,1076.5 1221.1,1077.4 1221.7,1076.7 1222.3,1076.6 1222.9,1077.0 1223.5,1076.9 1224.1,1078.1 1224.7,1076.9 1225.3,1078.0 1225.9,1076.7 1226.5,1078.1 1227.1,1078.3 1227.7,1076.9 1228.3,1078.2 1228.9,1078.0 1229.5,1078.8 1230.1,1079.7 1230.7,1078.6 1231.3,1079.1 1231.9,1080.3 1232.5,1080.1 1233.1,1081.3 1233.7,1080.7 1234.3,1080.4 1234.9,1081.2 1235.5,1081.9 1236.1,1081.8 1236.7,1081.4 1237.3,1081.4 1237.9,1081.3 1238.5,1081.1 1239.1,1082.5 1239.7,1081.7 1240.3,1081.1 1240.9,1081.5 1241.5,1081.9 1242.1,1081.9 1242.7,1082.1 1243.3,1081.5 1243.9,1082.0 1244.5,1080.9 1245.1,1080.9 1245.7,1081.7 1246.3,1080.9 1246.9,1081.3 1247.5,1081.6 1248.1,1080.8 1248.7,1080.5 1249.3,1081.8 1249.9,1081.6 1250.5,1081.2 1251.1,1082.0 1251.7,1081.7 1252.3,1081.1 1252.9,1082.0 1253.5,1081.6 1254.1,1079.4 1254.7,1081.5 1255.3,1081.3 1255.9,1081.2 1256.5,1080.9 1257.1,1082.0 1257.7,1082.7 1258.3,1083.3 1258.9,1082.0 1259.5,1083.6 1260.1,1082.6 1260.7,1083.2 1261.3,1085.4 1261.9,1083.1 1262.5,1083.4 1263.1,1084.1 1263.7,1083.3 1264.3,1083.8 1264.9,1084.4 1265.5,1084.8 1266.1,1083.2 1266.7,1083.3 1267.3,1083.0 1267.9,1083.0 1268.5,1082.8 1269.1,1083.3 1269.7,1084.0 1270.3,1083.4 1270.9,1084.2 1271.5,1084.2 1272.1,1083.7 1272.7,1083.6 1273.3,1084.8 1273.9,1085.2 1274.5,1084.2 1275.1,1084.8 1275.7,1084.5 1276.3,1084.6 1276.9,1084.9 1277.5,1084.1 1278.1,1084.3 1278.7,1085.3 1279.3,1084.8 1279.9,1085.3 1280.5,1084.7 1281.1,1084.6 1281.7,1084.3 1282.3,1085.7 1282.9,1084.9 1283.5,1085.3 1284.1,1085.5 1284.7,1085.4 1285.3,1085.8 1285.9,1085.5 1286.5,1086.6 1287.1,1086.0 1287.7,1086.9 1288.3,1086.7 1288.9,1086.8 1289.5,1085.7 1290.1,1086.4 1290.7,1086.8 1291.3,1087.2 1291.9,1085.3 1292.5,1088.6 1293.1,1088.0 1293.7,1088.8 1294.3,1089.3 1294.9,1089.5 1295.5,1089.8 1296.1,1089.2 1296.7,1089.3 1297.3,1089.4 1297.9,1090.0 1298.5,1090.1 1299.1,1090.3 1299.7,1090.8 1300.3,1091.3 1300.9,1091.7 1301.5,1090.4 1302.1,1091.4 1302.7,1091.4 1303.3,1091.0 1303.9,1092.0 1304.5,1091.2 1305.1,1090.9 1305.7,1091.1 1306.3,1091.5 1306.9,1091.6 1307.5,1091.6 1308.1,1092.1 1308.7,1091.1 1309.3,1092.2 1309.9,1091.2 1310.5,1091.4 1311.1,1091.7 1311.7,1091.2 1312.3,1091.1 1312.9,1092.0 1313.5,1092.3 1314.1,1092.8 1314.7,1092.9 1315.3,1092.0 1315.9,1092.2 1316.5,1092.5 1317.1,1093.3 1317.7,1091.9 1318.3,1094.1 1318.9,1093.2 1319.5,1093.0 1320.1,1093.6 1320.7,1093.5 1321.3,1093.3 1321.9,1093.9 1322.5,1093.7 1323.1,1093.9 1323.7,1094.0 1324.3,1093.2 1324.9,1094.0 1325.5,1093.4 1326.1,1093.2 1326.7,1092.7 1327.3,1093.1 1327.9,1093.7 1328.5,1092.9 1329.1,1094.0 1329.7,1093.4 1330.3,1093.9 1330.9,1092.6 1331.5,1093.8 1332.1,1094.0 1332.7,1093.4 1333.3,1093.7 1333.9,1092.4 1334.5,1094.5 1335.1,1093.9 1335.7,1095.0 1336.3,1093.7 1336.9,1095.1 1337.5,1095.0 1338.1,1095.7 1338.7,1094.8 1339.3,1094.5 1339.9,1095.9 1340.5,1094.3 1341.1,1094.0 1341.7,1095.1 1342.3,1094.4 1342.9,1095.6 1343.5,1096.0 1344.1,1094.9 1344.7,1094.6 1345.3,1096.0 1345.9,1095.9 1346.5,1095.9 1347.1,1096.5 1347.7,1095.6 1348.3,1096.3 1348.9,1095.7 1349.5,1095.1 1350.1,1096.3 1350.7,1095.5 1351.3,1097.0 1351.9,1096.5 1352.5,1096.0 1353.1,1096.9 1353.7,1097.8 1354.3,1097.7 1354.9,1096.8 1355.5,1098.4 1356.1,1099.3 1356.7,1098.3 1357.3,1098.9 1357.9,1100.2 1358.5,1099.6 1359.1,1099.6 1359.7,1100.1 1360.3,1099.8 1360.9,1100.8 1361.5,1100.6 1362.1,1101.2 1362.7,1101.3 1363.3,1099.7 1363.9,1100.9 1364.5,1101.1 1365.1,1102.2 1365.7,1102.4 1366.3,1102.7 1366.9,1101.4 1367.5,1101.9 1368.1,1100.7 1368.7,1099.9 1369.3,1101.5 1369.9,1098.9 1370.5,1100.7 1371.1,1100.4 1371.7,1101.0 1372.3,1101.8 1372.9,1102.1 1373.5,1102.6 1374.1,1100.7 1374.7,1102.0 1375.3,1100.9 1375.9,1101.1 1376.5,1102.3 1377.1,1101.9 1377.7,1101.6 1378.3,1103.2 1378.9,1102.0 1379.5,1102.9 1380.1,1102.8 1380.7,1103.1 1381.3,1102.2 1381.9,1103.1 1382.5,1102.3 1383.1,1103.2 1383.7,1102.1 1384.3,1102.5 1384.9,1104.0 1385.5,1103.5 1386.1,1103.5 1386.7,1105.0 1387.3,1104.1 1387.9,1103.7 1388.5,1104.2 1389.1,1102.9 1389.7,1104.1 1390.3,1104.3 1390.9,1104.0 1391.5,1104.6 1392.1,1105.0 1392.7,1104.7 1393.3,1104.2 1393.9,1104.6 1394.5,1103.4 1395.1,1104.0 1395.7,1104.1 1396.3,1104.1 1396.9,1104.5 1397.5,1103.8 1398.1,1104.8 1398.7,1104.6 1399.3,1104.5 1399.9,1104.2 1400.5,1104.1 1401.1,1105.4 1401.7,1104.6 1402.3,1105.5 1402.9,1106.1 1403.5,1105.5 1404.1,1106.1 1404.7,1105.4 1405.3,1105.0 1405.9,1106.7 1406.5,1106.3 1407.1,1106.5 1407.7,1106.3 1408.3,1106.8 1408.9,1107.3 1409.5,1107.8 1410.1,1107.5 1410.7,1107.8 1411.3,1107.1 1411.9,1107.2 1412.5,1107.7 1413.1,1106.8 1413.7,1108.4 1414.3,1108.2 1414.9,1108.7 1415.5,1108.2 1416.1,1107.7 1416.7,1108.7 1417.3,1107.6 1417.9,1107.5 1418.5,1107.9 1419.1,1108.4 1419.7,1111.9 1420.3,1109.5 1420.9,1110.1 1421.5,1109.3 1422.1,1109.7 1422.7,1109.7 1423.3,1110.1 1423.9,1109.0 1424.5,1109.9"/>
<path fill="#0000ff" stroke="none" d="M238.0,30.0 238.0,53.9 241.0,54.7 241.0,67.0 246.8,67.8 247.0,70.7 250.9,71.9 251.7,74.4 254.0,74.8 254.0,82.6 258.7,85.9 259.1,91.7 260.2,92.5 260.2,104.0 263.0,104.8 263.2,111.4 264.3,112.2 264.2,141.5 265.2,142.7 268.9,142.7 270.1,144.0 270.1,158.4 271.3,159.8 274.6,159.8 275.8,158.4 276.1,151.8 276.9,151.0 277.1,138.6 277.9,138.6 278.3,146.5 279.1,147.3 279.4,156.3 280.2,157.1 280.2,165.4 282.0,167.0 283.2,172.8 285.1,172.9 285.3,186.8 286.1,187.2 286.3,192.5 287.9,194.2 288.2,206.5 289.3,207.3 289.4,212.7 291.1,213.1 293.1,217.2 293.4,221.3 294.4,222.1 294.4,225.4 295.3,227.9 298.9,227.9 301.3,233.6 303.6,234.0 305.0,236.9 305.2,240.0 314.1,240.0 314.1,236.9 313.3,236.1 312.9,233.2 312.0,232.0 310.4,232.0 309.2,231.2 308.9,227.9 306.7,225.8 304.1,225.8 304.0,223.4 303.0,222.9 302.8,206.5 301.9,205.7 301.9,187.2 300.9,185.9 297.2,185.9 296.0,186.8 295.8,180.3 294.8,179.2 293.1,178.9 292.9,172.4 291.1,170.7 290.9,155.5 290.1,154.7 290.0,146.0 289.0,145.0 284.1,145.0 284.1,138.6 283.2,137.8 283.0,134.5 282.0,133.7 281.9,129.5 280.9,128.7 280.9,107.3 279.9,100.3 278.9,99.1 275.2,99.1 274.2,100.3 274.2,115.5 273.1,115.9 271.9,104.0 269.0,101.6 268.6,72.8 264.3,72.1 263.2,72.4 262.0,71.1 261.8,58.4 258.7,55.9 258.7,37.8 255.0,30.0Z"/>
</g>
<g class="tl"><text transform="translate(217.3,1263.8) scale(1,1.10)" font-size="42.8" text-anchor="middle">300</text><text transform="translate(457.1,1263.8) scale(1,1.10)" font-size="42.8" text-anchor="middle">400</text><text transform="translate(696.9,1263.8) scale(1,1.10)" font-size="42.8" text-anchor="middle">500</text><text transform="translate(936.7,1263.8) scale(1,1.10)" font-size="42.8" text-anchor="middle">600</text><text transform="translate(1176.5,1263.8) scale(1,1.10)" font-size="42.8" text-anchor="middle">700</text><text transform="translate(1416.3,1263.8) scale(1,1.10)" font-size="42.8" text-anchor="middle">800</text><text transform="translate(202,1225.5) scale(1,1.05)" font-size="44.5" text-anchor="end">0.0</text><text transform="translate(202,989.6) scale(1,1.05)" font-size="44.5" text-anchor="end">0.5</text><text transform="translate(202,753.7) scale(1,1.05)" font-size="44.5" text-anchor="end">1.0</text><text transform="translate(202,517.8) scale(1,1.05)" font-size="44.5" text-anchor="end">1.5</text><text transform="translate(202,281.9) scale(1,1.05)" font-size="44.5" text-anchor="end">2.0</text><text transform="translate(202,46.0) scale(1,1.05)" font-size="44.5" text-anchor="end">2.5</text></g>
<g class="lg" stroke-width="6" stroke-linecap="round">
<path shape-rendering="crispEdges" stroke="#000" d="M876,199H997"/><path shape-rendering="crispEdges" stroke="#ff0000" d="M876,267H997"/><path shape-rendering="crispEdges" stroke="#0000ff" d="M876,335H997"/>
<text x="1012.4" y="218" font-size="54.1">monomer (9)</text>
<text x="1012.4" y="285.6" font-size="54.3">polymer (10)</text>
<text x="1012.4" y="354" font-size="54.45">microgel (8)</text>
</g>
<g transform="translate(720,1290) scale(0.12337)" fill="#000" stroke="#000" stroke-width="3" stroke-linejoin="round"><path d="M112,182C112,130 135,90 166,88C206,88 226,130 240,192L296,405C303,432 315,442 330,442C350,442 362,425 367,398L377,400C373,452 350,487 318,487C285,487 265,460 251,400L213,248C204,215 200,190 190,152C182,126 170,118 158,118C135,118 126,150 121,182Z"/><path d="M98,478L150,478L232,300L207,228Z"/></g><text x="767.9" y="1349" font-size="66" class="ser">,</text><text x="798" y="1349" font-size="64.5">nm</text>
<text transform="translate(63,892) rotate(-90)" font-size="65">Absorbance, a.u.</text>
</svg>
</body></html>
